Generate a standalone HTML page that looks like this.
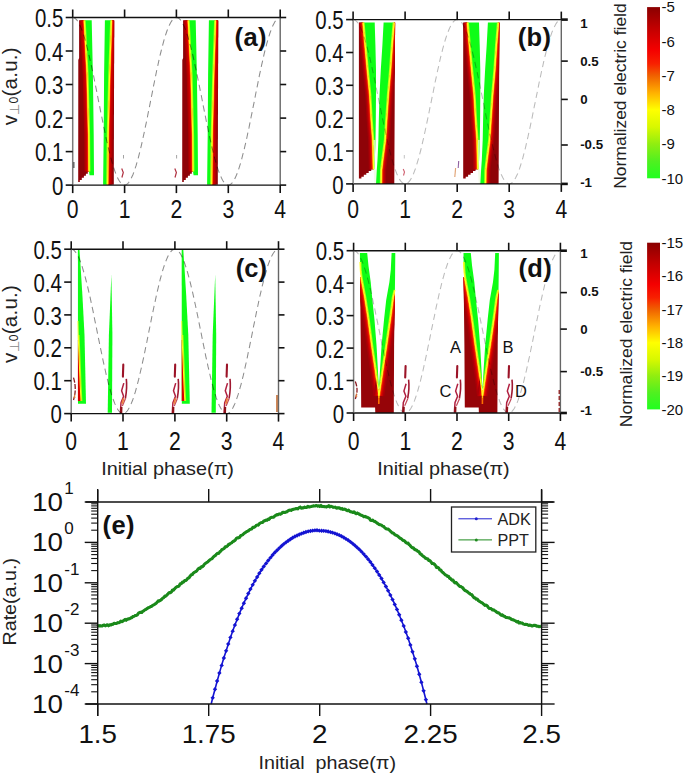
<!DOCTYPE html><html><head><meta charset="utf-8"><style>html,body{margin:0;padding:0;background:#fff;}svg{display:block;} text{font-family:"Liberation Sans",sans-serif;} .tk{font-size:25.5px;fill:#111;} .bl{font-size:25.5px;font-weight:bold;fill:#111;letter-spacing:0.4px;} .rt{font-size:13.3px;font-weight:bold;fill:#111;} .cb{font-size:15px;fill:#111;} .lab{font-size:19px;fill:#222;} .yl{font-size:20.5px;fill:#222;letter-spacing:0.25px;}</style></head><body>
<svg width="685" height="775" viewBox="0 0 685 775">
<defs>
<linearGradient id="cbar" x1="0" y1="0" x2="0" y2="1"><stop offset="0" stop-color="#8a0000"/><stop offset="0.12" stop-color="#c00000"/><stop offset="0.25" stop-color="#f40000"/><stop offset="0.33" stop-color="#f82000"/><stop offset="0.4" stop-color="#f06000"/><stop offset="0.5" stop-color="#ffb000"/><stop offset="0.6" stop-color="#ffff00"/><stop offset="0.7" stop-color="#d8f800"/><stop offset="0.8" stop-color="#90ee10"/><stop offset="0.9" stop-color="#50f020"/><stop offset="1" stop-color="#20ff20"/></linearGradient>
</defs>
<rect width="685" height="775" fill="#fff"/>
<polygon points="84.3,20.3 87.2,75.0 88.7,135.0 89.0,171.5 89.6,175.3 94.0,175.3 94.0,175.3 93.7,135.0 92.9,75.0 91.7,20.3" fill="#0efd16" /><clipPath id="cp1"><polygon points="84.3,20.3 87.2,75.0 88.7,135.0 89.0,171.5 89.6,175.3 94.0,175.3 94.0,175.3 93.7,135.0 92.9,75.0 91.7,20.3" fill="#000" /></clipPath><g clip-path="url(#cp1)"><polyline points="84.3,20.3 87.2,75.0 88.7,135.0 89.0,171.5" fill="none" stroke="#a8ff18" stroke-width="2.8" stroke-linejoin="round"/></g>
<polygon points="79.1,20.3 84.3,20.3 87.2,75.0 88.7,135.0 89.0,171.5 89.2,171.5 87.8,171.5 87.8,173.8 85.9,173.8 85.9,175.8 83.9,175.8 83.9,177.8 81.8,177.8 81.8,179.9 79.8,179.9 79.8,182.1 78.2,182.1 78.3,60.0 79.1,58.0" fill="#8e0308" /><clipPath id="cp2"><polygon points="79.1,20.3 84.3,20.3 87.2,75.0 88.7,135.0 89.0,171.5 89.2,171.5 87.8,171.5 87.8,173.8 85.9,173.8 85.9,175.8 83.9,175.8 83.9,177.8 81.8,177.8 81.8,179.9 79.8,179.9 79.8,182.1 78.2,182.1 78.3,60.0 79.1,58.0" fill="#000" /></clipPath><g clip-path="url(#cp2)"><polyline points="84.3,20.3 87.2,75.0 88.7,135.0 89.0,171.5" fill="none" stroke="#b00000" stroke-width="9.0" stroke-linejoin="round"/><polyline points="84.3,20.3 87.2,75.0 88.7,135.0 89.0,171.5" fill="none" stroke="#c40000" stroke-width="6.6" stroke-linejoin="round"/><polyline points="84.3,20.3 87.2,75.0 88.7,135.0 89.0,171.5" fill="none" stroke="#de0000" stroke-width="4.2" stroke-linejoin="round"/><polyline points="84.3,20.3 87.2,75.0 88.7,135.0 89.0,171.5" fill="none" stroke="#ff4000" stroke-width="2.6" stroke-linejoin="round"/><polyline points="84.3,20.3 87.2,75.0 88.7,135.0 89.0,171.5" fill="none" stroke="#ffb000" stroke-width="1.4" stroke-linejoin="round"/></g>
<polyline points="84.3,20.3 87.2,75.0 88.7,135.0 89.0,171.5" fill="none" stroke="#ffff20" stroke-width="1.1" />
<polygon points="104.9,20.3 104.1,75.0 103.7,135.0 103.1,184.7 107.6,184.7 108.1,135.0 109.6,75.0 111.5,20.3" fill="#0efd16" /><clipPath id="cp3"><polygon points="104.9,20.3 104.1,75.0 103.7,135.0 103.1,184.7 107.6,184.7 108.1,135.0 109.6,75.0 111.5,20.3" fill="#000" /></clipPath><g clip-path="url(#cp3)"><polyline points="111.5,20.3 109.6,75.0 108.1,135.0 107.6,184.7" fill="none" stroke="#a8ff18" stroke-width="2.8" stroke-linejoin="round"/></g>
<polygon points="111.5,20.3 109.6,75.0 108.1,135.0 107.6,184.7 113.8,184.7 114.2,20.3" fill="#8e0308" /><clipPath id="cp4"><polygon points="111.5,20.3 109.6,75.0 108.1,135.0 107.6,184.7 113.8,184.7 114.2,20.3" fill="#000" /></clipPath><g clip-path="url(#cp4)"><polyline points="111.5,20.3 109.6,75.0 108.1,135.0 107.6,184.7" fill="none" stroke="#b00000" stroke-width="9.0" stroke-linejoin="round"/><polyline points="111.5,20.3 109.6,75.0 108.1,135.0 107.6,184.7" fill="none" stroke="#c40000" stroke-width="6.6" stroke-linejoin="round"/><polyline points="111.5,20.3 109.6,75.0 108.1,135.0 107.6,184.7" fill="none" stroke="#de0000" stroke-width="4.2" stroke-linejoin="round"/><polyline points="111.5,20.3 109.6,75.0 108.1,135.0 107.6,184.7" fill="none" stroke="#ff4000" stroke-width="2.6" stroke-linejoin="round"/><polyline points="111.5,20.3 109.6,75.0 108.1,135.0 107.6,184.7" fill="none" stroke="#ffb000" stroke-width="1.4" stroke-linejoin="round"/></g>
<polyline points="111.5,20.3 109.6,75.0 108.1,135.0 107.6,184.7" fill="none" stroke="#ffff20" stroke-width="1.1" />
<polygon points="188.3,20.3 191.2,75.0 192.7,135.0 193.0,171.5 193.6,175.3 198.0,175.3 198.0,175.3 197.7,135.0 196.9,75.0 195.7,20.3" fill="#0efd16" /><clipPath id="cp5"><polygon points="188.3,20.3 191.2,75.0 192.7,135.0 193.0,171.5 193.6,175.3 198.0,175.3 198.0,175.3 197.7,135.0 196.9,75.0 195.7,20.3" fill="#000" /></clipPath><g clip-path="url(#cp5)"><polyline points="188.3,20.3 191.2,75.0 192.7,135.0 193.0,171.5" fill="none" stroke="#a8ff18" stroke-width="2.8" stroke-linejoin="round"/></g>
<polygon points="183.1,20.3 188.3,20.3 191.2,75.0 192.7,135.0 193.0,171.5 193.2,171.5 191.8,171.5 191.8,173.8 189.9,173.8 189.9,175.8 187.9,175.8 187.9,177.8 185.8,177.8 185.8,179.9 183.8,179.9 183.8,182.1 182.2,182.1 182.3,60.0 183.1,58.0" fill="#8e0308" /><clipPath id="cp6"><polygon points="183.1,20.3 188.3,20.3 191.2,75.0 192.7,135.0 193.0,171.5 193.2,171.5 191.8,171.5 191.8,173.8 189.9,173.8 189.9,175.8 187.9,175.8 187.9,177.8 185.8,177.8 185.8,179.9 183.8,179.9 183.8,182.1 182.2,182.1 182.3,60.0 183.1,58.0" fill="#000" /></clipPath><g clip-path="url(#cp6)"><polyline points="188.3,20.3 191.2,75.0 192.7,135.0 193.0,171.5" fill="none" stroke="#b00000" stroke-width="9.0" stroke-linejoin="round"/><polyline points="188.3,20.3 191.2,75.0 192.7,135.0 193.0,171.5" fill="none" stroke="#c40000" stroke-width="6.6" stroke-linejoin="round"/><polyline points="188.3,20.3 191.2,75.0 192.7,135.0 193.0,171.5" fill="none" stroke="#de0000" stroke-width="4.2" stroke-linejoin="round"/><polyline points="188.3,20.3 191.2,75.0 192.7,135.0 193.0,171.5" fill="none" stroke="#ff4000" stroke-width="2.6" stroke-linejoin="round"/><polyline points="188.3,20.3 191.2,75.0 192.7,135.0 193.0,171.5" fill="none" stroke="#ffb000" stroke-width="1.4" stroke-linejoin="round"/></g>
<polyline points="188.3,20.3 191.2,75.0 192.7,135.0 193.0,171.5" fill="none" stroke="#ffff20" stroke-width="1.1" />
<polygon points="208.9,20.3 208.1,75.0 207.7,135.0 207.1,184.7 211.6,184.7 212.1,135.0 213.6,75.0 215.5,20.3" fill="#0efd16" /><clipPath id="cp7"><polygon points="208.9,20.3 208.1,75.0 207.7,135.0 207.1,184.7 211.6,184.7 212.1,135.0 213.6,75.0 215.5,20.3" fill="#000" /></clipPath><g clip-path="url(#cp7)"><polyline points="215.5,20.3 213.6,75.0 212.1,135.0 211.6,184.7" fill="none" stroke="#a8ff18" stroke-width="2.8" stroke-linejoin="round"/></g>
<polygon points="215.5,20.3 213.6,75.0 212.1,135.0 211.6,184.7 217.8,184.7 218.2,20.3" fill="#8e0308" /><clipPath id="cp8"><polygon points="215.5,20.3 213.6,75.0 212.1,135.0 211.6,184.7 217.8,184.7 218.2,20.3" fill="#000" /></clipPath><g clip-path="url(#cp8)"><polyline points="215.5,20.3 213.6,75.0 212.1,135.0 211.6,184.7" fill="none" stroke="#b00000" stroke-width="9.0" stroke-linejoin="round"/><polyline points="215.5,20.3 213.6,75.0 212.1,135.0 211.6,184.7" fill="none" stroke="#c40000" stroke-width="6.6" stroke-linejoin="round"/><polyline points="215.5,20.3 213.6,75.0 212.1,135.0 211.6,184.7" fill="none" stroke="#de0000" stroke-width="4.2" stroke-linejoin="round"/><polyline points="215.5,20.3 213.6,75.0 212.1,135.0 211.6,184.7" fill="none" stroke="#ff4000" stroke-width="2.6" stroke-linejoin="round"/><polyline points="215.5,20.3 213.6,75.0 212.1,135.0 211.6,184.7" fill="none" stroke="#ffb000" stroke-width="1.4" stroke-linejoin="round"/></g>
<polyline points="215.5,20.3 213.6,75.0 212.1,135.0 211.6,184.7" fill="none" stroke="#ffff20" stroke-width="1.1" />
<polyline points="72.7,17.5 73.7,17.7 74.8,18.2 75.8,19.0 76.9,20.1 77.9,21.6 78.9,23.4 80.0,25.5 81.0,27.9 82.0,30.5 83.1,33.5 84.1,36.7 85.2,40.2 86.2,43.9 87.2,47.9 88.3,52.0 89.3,56.4 90.3,60.9 91.4,65.6 92.4,70.5 93.5,75.4 94.5,80.5 95.5,85.6 96.6,90.8 97.6,96.0 98.6,101.3 99.7,106.6 100.7,111.8 101.8,117.0 102.8,122.1 103.8,127.2 104.9,132.1 105.9,137.0 106.9,141.7 108.0,146.2 109.0,150.6 110.1,154.7 111.1,158.7 112.1,162.4 113.2,165.9 114.2,169.1 115.2,172.1 116.3,174.7 117.3,177.1 118.3,179.2 119.4,181.0 120.4,182.5 121.5,183.6 122.5,184.4 123.5,184.9 124.6,185.1 125.6,184.9 126.7,184.4 127.7,183.6 128.7,182.5 129.8,181.0 130.8,179.2 131.8,177.1 132.9,174.7 133.9,172.1 134.9,169.1 136.0,165.9 137.0,162.4 138.1,158.7 139.1,154.7 140.1,150.6 141.2,146.2 142.2,141.7 143.2,137.0 144.3,132.1 145.3,127.2 146.4,122.1 147.4,117.0 148.4,111.8 149.5,106.6 150.5,101.3 151.6,96.0 152.6,90.8 153.6,85.6 154.7,80.5 155.7,75.4 156.7,70.5 157.8,65.6 158.8,60.9 159.8,56.4 160.9,52.0 161.9,47.9 163.0,43.9 164.0,40.2 165.0,36.7 166.1,33.5 167.1,30.5 168.2,27.9 169.2,25.5 170.2,23.4 171.3,21.6 172.3,20.1 173.3,19.0 174.4,18.2 175.4,17.7 176.4,17.5 177.5,17.7 178.5,18.2 179.6,19.0 180.6,20.1 181.6,21.6 182.7,23.4 183.7,25.5 184.8,27.9 185.8,30.5 186.8,33.5 187.9,36.7 188.9,40.2 189.9,43.9 191.0,47.9 192.0,52.0 193.1,56.4 194.1,60.9 195.1,65.6 196.2,70.5 197.2,75.4 198.2,80.5 199.3,85.6 200.3,90.8 201.4,96.0 202.4,101.3 203.4,106.6 204.5,111.8 205.5,117.0 206.5,122.1 207.6,127.2 208.6,132.1 209.7,137.0 210.7,141.7 211.7,146.2 212.8,150.6 213.8,154.7 214.8,158.7 215.9,162.4 216.9,165.9 217.9,169.1 219.0,172.1 220.0,174.7 221.1,177.1 222.1,179.2 223.1,181.0 224.2,182.5 225.2,183.6 226.2,184.4 227.3,184.9 228.3,185.1 229.4,184.9 230.4,184.4 231.4,183.6 232.5,182.5 233.5,181.0 234.6,179.2 235.6,177.1 236.6,174.7 237.7,172.1 238.7,169.1 239.7,165.9 240.8,162.4 241.8,158.7 242.8,154.7 243.9,150.6 244.9,146.2 246.0,141.7 247.0,137.0 248.0,132.1 249.1,127.2 250.1,122.1 251.1,117.0 252.2,111.8 253.2,106.6 254.3,101.3 255.3,96.0 256.3,90.8 257.4,85.6 258.4,80.5 259.4,75.4 260.5,70.5 261.5,65.6 262.6,60.9 263.6,56.4 264.6,52.0 265.7,47.9 266.7,43.9 267.8,40.2 268.8,36.7 269.8,33.5 270.9,30.5 271.9,27.9 272.9,25.5 274.0,23.4 275.0,21.6 276.1,20.1 277.1,19.0 278.1,18.2 279.2,17.7 280.2,17.5" fill="none" stroke="#000" stroke-width="1.05" stroke-dasharray="6.3,4.2" stroke-opacity="0.45"/>
<path d="M121.7 168.5 l1.6 4 l-1.4 5" fill="none" stroke="#b03040" stroke-width="1.2"/>
<path d="M123.5 155 l0 3.5" stroke="#999" stroke-width="0.9"/>
<path d="M174.8 168.5 l1.6 4 l-1.4 5" fill="none" stroke="#b03040" stroke-width="1.2"/>
<path d="M176.6 155 l0 3.5" stroke="#999" stroke-width="0.9"/>
<path d="M73.8 162 l0 6" stroke="#333" stroke-width="1.2"/>
<line x1="72.0" y1="17.5" x2="280.9" y2="17.5" stroke="#111" stroke-width="1.4"/>
<line x1="72.0" y1="185.1" x2="280.9" y2="185.1" stroke="#111" stroke-width="1.4"/>
<line x1="72.7" y1="17.5" x2="72.7" y2="185.1" stroke="#7a7a7a" stroke-width="1.5"/>
<line x1="280.2" y1="17.5" x2="280.2" y2="185.1" stroke="#666" stroke-width="1.4"/>
<line x1="72.7" y1="9.5" x2="72.7" y2="17.5" stroke="#111" stroke-width="1.6"/>
<line x1="72.7" y1="185.1" x2="72.7" y2="193.1" stroke="#111" stroke-width="1.6"/>
<line x1="124.6" y1="9.5" x2="124.6" y2="17.5" stroke="#111" stroke-width="1.6"/>
<line x1="124.6" y1="185.1" x2="124.6" y2="193.1" stroke="#111" stroke-width="1.6"/>
<line x1="176.4" y1="9.5" x2="176.4" y2="17.5" stroke="#111" stroke-width="1.6"/>
<line x1="176.4" y1="185.1" x2="176.4" y2="193.1" stroke="#111" stroke-width="1.6"/>
<line x1="228.3" y1="9.5" x2="228.3" y2="17.5" stroke="#111" stroke-width="1.6"/>
<line x1="228.3" y1="185.1" x2="228.3" y2="193.1" stroke="#111" stroke-width="1.6"/>
<line x1="280.2" y1="9.5" x2="280.2" y2="17.5" stroke="#111" stroke-width="1.6"/>
<line x1="280.2" y1="185.1" x2="280.2" y2="193.1" stroke="#111" stroke-width="1.6"/>
<line x1="65.7" y1="185.1" x2="72.7" y2="185.1" stroke="#111" stroke-width="1.6"/>
<line x1="65.7" y1="151.6" x2="72.7" y2="151.6" stroke="#111" stroke-width="1.6"/>
<line x1="65.7" y1="118.1" x2="72.7" y2="118.1" stroke="#111" stroke-width="1.6"/>
<line x1="65.7" y1="84.5" x2="72.7" y2="84.5" stroke="#111" stroke-width="1.6"/>
<line x1="65.7" y1="51.0" x2="72.7" y2="51.0" stroke="#111" stroke-width="1.6"/>
<line x1="65.7" y1="17.5" x2="72.7" y2="17.5" stroke="#111" stroke-width="1.6"/>
<line x1="280.2" y1="185.1" x2="286.2" y2="185.1" stroke="#111" stroke-width="1.6"/>
<line x1="280.2" y1="151.6" x2="286.2" y2="151.6" stroke="#111" stroke-width="1.6"/>
<line x1="280.2" y1="118.1" x2="286.2" y2="118.1" stroke="#111" stroke-width="1.6"/>
<line x1="280.2" y1="84.5" x2="286.2" y2="84.5" stroke="#111" stroke-width="1.6"/>
<line x1="280.2" y1="51.0" x2="286.2" y2="51.0" stroke="#111" stroke-width="1.6"/>
<line x1="280.2" y1="17.5" x2="286.2" y2="17.5" stroke="#111" stroke-width="1.6"/>
<text x="72.7" y="218.5" class="tk" text-anchor="middle" transform="translate(72.7 0) scale(0.83 1) translate(-72.7 0)">0</text>
<text x="124.6" y="218.5" class="tk" text-anchor="middle" transform="translate(124.6 0) scale(0.83 1) translate(-124.6 0)">1</text>
<text x="176.4" y="218.5" class="tk" text-anchor="middle" transform="translate(176.4 0) scale(0.83 1) translate(-176.4 0)">2</text>
<text x="228.3" y="218.5" class="tk" text-anchor="middle" transform="translate(228.3 0) scale(0.83 1) translate(-228.3 0)">3</text>
<text x="280.2" y="218.5" class="tk" text-anchor="middle" transform="translate(280.2 0) scale(0.83 1) translate(-280.2 0)">4</text>
<text x="63.3" y="194.8" class="tk" text-anchor="end" transform="translate(63.3 0) scale(0.8 1) translate(-63.3 0)">0</text>
<text x="63.3" y="161.3" class="tk" text-anchor="end" transform="translate(63.3 0) scale(0.8 1) translate(-63.3 0)">0.1</text>
<text x="63.3" y="127.8" class="tk" text-anchor="end" transform="translate(63.3 0) scale(0.8 1) translate(-63.3 0)">0.2</text>
<text x="63.3" y="94.2" class="tk" text-anchor="end" transform="translate(63.3 0) scale(0.8 1) translate(-63.3 0)">0.3</text>
<text x="63.3" y="60.7" class="tk" text-anchor="end" transform="translate(63.3 0) scale(0.8 1) translate(-63.3 0)">0.4</text>
<text x="63.3" y="27.2" class="tk" text-anchor="end" transform="translate(63.3 0) scale(0.8 1) translate(-63.3 0)">0.5</text>
<text x="234.5" y="45.8" class="bl">(a)</text>
<polygon points="363.2,22.4 365.2,45.0 367.5,70.0 370.0,95.0 371.4,120.0 372.9,140.0 373.4,160.0 373.6,169.5 374.2,169.5 374.8,160.0 375.5,140.0 375.8,120.0 376.0,95.0 376.0,70.0 375.4,45.0 374.7,22.4" fill="#0efd16" /><clipPath id="cp9"><polygon points="363.2,22.4 365.2,45.0 367.5,70.0 370.0,95.0 371.4,120.0 372.9,140.0 373.4,160.0 373.6,169.5 374.2,169.5 374.8,160.0 375.5,140.0 375.8,120.0 376.0,95.0 376.0,70.0 375.4,45.0 374.7,22.4" fill="#000" /></clipPath><g clip-path="url(#cp9)"><polyline points="363.2,22.4 365.2,45.0 367.5,70.0 370.0,95.0 371.4,120.0 372.9,140.0 373.4,160.0 373.6,169.5" fill="none" stroke="#a8ff18" stroke-width="2.8" stroke-linejoin="round"/></g>
<polygon points="372.9,140.0 375.5,140.0 374.8,160.0 374.2,169.5 373.6,169.5 373.4,160.0" fill="#c8ffa0" />
<polygon points="373.6,169.5 374.2,169.5 376.8,170.0 376.0,183.9 374.5,183.9" fill="#f2fbe8" />
<polygon points="383.6,22.4 382.4,45.0 380.8,70.0 379.5,95.0 378.8,120.0 378.4,140.0 377.5,160.0 376.8,170.0 376.0,183.9 381.2,183.9 381.4,170.0 382.6,160.0 385.2,140.0 386.5,120.0 388.2,95.0 390.4,70.0 392.1,45.0 394.0,22.4" fill="#0efd16" /><clipPath id="cp10"><polygon points="383.6,22.4 382.4,45.0 380.8,70.0 379.5,95.0 378.8,120.0 378.4,140.0 377.5,160.0 376.8,170.0 376.0,183.9 381.2,183.9 381.4,170.0 382.6,160.0 385.2,140.0 386.5,120.0 388.2,95.0 390.4,70.0 392.1,45.0 394.0,22.4" fill="#000" /></clipPath><g clip-path="url(#cp10)"><polyline points="394.0,22.4 392.1,45.0 390.4,70.0 388.2,95.0 386.5,120.0 385.2,140.0 382.6,160.0 381.4,170.0 381.2,183.9" fill="none" stroke="#a8ff18" stroke-width="2.8" stroke-linejoin="round"/></g>
<polygon points="358.6,22.4 363.2,22.4 365.2,45.0 367.5,70.0 370.0,95.0 371.4,120.0 372.9,140.0 373.4,160.0 373.6,169.5 373.6,169.2 371.2,169.2 371.2,171.1 368.7,171.1 368.7,172.9 366.3,172.9 366.3,174.8 363.8,174.8 363.8,176.7 361.4,176.7 361.4,178.6 358.9,178.6 358.9,180.4 358.9,180.4 358.9,22.4" fill="#8e0308" /><clipPath id="cp11"><polygon points="358.6,22.4 363.2,22.4 365.2,45.0 367.5,70.0 370.0,95.0 371.4,120.0 372.9,140.0 373.4,160.0 373.6,169.5 373.6,169.2 371.2,169.2 371.2,171.1 368.7,171.1 368.7,172.9 366.3,172.9 366.3,174.8 363.8,174.8 363.8,176.7 361.4,176.7 361.4,178.6 358.9,178.6 358.9,180.4 358.9,180.4 358.9,22.4" fill="#000" /></clipPath><g clip-path="url(#cp11)"><polyline points="363.2,22.4 365.2,45.0 367.5,70.0 370.0,95.0 371.4,120.0 372.9,140.0 373.4,160.0 373.6,169.5" fill="none" stroke="#a40008" stroke-width="9.6" stroke-linejoin="round"/><polyline points="363.2,22.4 365.2,45.0 367.5,70.0 370.0,95.0 371.4,120.0 372.9,140.0 373.4,160.0 373.6,169.5" fill="none" stroke="#be0004" stroke-width="7.2" stroke-linejoin="round"/><polyline points="363.2,22.4 365.2,45.0 367.5,70.0 370.0,95.0 371.4,120.0 372.9,140.0 373.4,160.0 373.6,169.5" fill="none" stroke="#d80800" stroke-width="5.2" stroke-linejoin="round"/><polyline points="363.2,22.4 365.2,45.0 367.5,70.0 370.0,95.0 371.4,120.0 372.9,140.0 373.4,160.0 373.6,169.5" fill="none" stroke="#ee2800" stroke-width="3.4" stroke-linejoin="round"/><polyline points="363.2,22.4 365.2,45.0 367.5,70.0 370.0,95.0 371.4,120.0 372.9,140.0 373.4,160.0 373.6,169.5" fill="none" stroke="#ff8800" stroke-width="2.2" stroke-linejoin="round"/><polyline points="363.2,22.4 365.2,45.0 367.5,70.0 370.0,95.0 371.4,120.0 372.9,140.0 373.4,160.0 373.6,169.5" fill="none" stroke="#ffd020" stroke-width="1.1" stroke-linejoin="round"/></g>
<polygon points="394.0,22.4 392.1,45.0 390.4,70.0 388.2,95.0 386.5,120.0 385.2,140.0 382.6,160.0 381.4,170.0 381.2,183.9 394.3,183.9 395.1,22.4" fill="#8e0308" /><clipPath id="cp12"><polygon points="394.0,22.4 392.1,45.0 390.4,70.0 388.2,95.0 386.5,120.0 385.2,140.0 382.6,160.0 381.4,170.0 381.2,183.9 394.3,183.9 395.1,22.4" fill="#000" /></clipPath><g clip-path="url(#cp12)"><polyline points="394.0,22.4 392.1,45.0 390.4,70.0 388.2,95.0 386.5,120.0 385.2,140.0 382.6,160.0 381.4,170.0 381.2,183.9" fill="none" stroke="#a40008" stroke-width="9.6" stroke-linejoin="round"/><polyline points="394.0,22.4 392.1,45.0 390.4,70.0 388.2,95.0 386.5,120.0 385.2,140.0 382.6,160.0 381.4,170.0 381.2,183.9" fill="none" stroke="#be0004" stroke-width="7.2" stroke-linejoin="round"/><polyline points="394.0,22.4 392.1,45.0 390.4,70.0 388.2,95.0 386.5,120.0 385.2,140.0 382.6,160.0 381.4,170.0 381.2,183.9" fill="none" stroke="#d80800" stroke-width="5.2" stroke-linejoin="round"/><polyline points="394.0,22.4 392.1,45.0 390.4,70.0 388.2,95.0 386.5,120.0 385.2,140.0 382.6,160.0 381.4,170.0 381.2,183.9" fill="none" stroke="#ee2800" stroke-width="3.4" stroke-linejoin="round"/><polyline points="394.0,22.4 392.1,45.0 390.4,70.0 388.2,95.0 386.5,120.0 385.2,140.0 382.6,160.0 381.4,170.0 381.2,183.9" fill="none" stroke="#ff8800" stroke-width="2.2" stroke-linejoin="round"/><polyline points="394.0,22.4 392.1,45.0 390.4,70.0 388.2,95.0 386.5,120.0 385.2,140.0 382.6,160.0 381.4,170.0 381.2,183.9" fill="none" stroke="#ffd020" stroke-width="1.1" stroke-linejoin="round"/></g>
<polyline points="363.2,22.4 365.2,45.0 367.5,70.0 370.0,95.0 371.4,120.0 372.9,140.0 373.4,160.0 373.6,169.5" fill="none" stroke="#ffff20" stroke-width="1.2" />
<polyline points="394.0,22.4 392.1,45.0 390.4,70.0 388.2,95.0 386.5,120.0 385.2,140.0 382.6,160.0 381.4,170.0 381.2,183.9" fill="none" stroke="#ffff20" stroke-width="1.2" />
<polygon points="467.5,22.4 469.5,45.0 471.8,70.0 474.3,95.0 475.7,120.0 477.2,140.0 477.7,160.0 477.9,169.5 478.5,169.5 479.1,160.0 479.8,140.0 480.1,120.0 480.3,95.0 480.3,70.0 479.7,45.0 479.0,22.4" fill="#0efd16" /><clipPath id="cp13"><polygon points="467.5,22.4 469.5,45.0 471.8,70.0 474.3,95.0 475.7,120.0 477.2,140.0 477.7,160.0 477.9,169.5 478.5,169.5 479.1,160.0 479.8,140.0 480.1,120.0 480.3,95.0 480.3,70.0 479.7,45.0 479.0,22.4" fill="#000" /></clipPath><g clip-path="url(#cp13)"><polyline points="467.5,22.4 469.5,45.0 471.8,70.0 474.3,95.0 475.7,120.0 477.2,140.0 477.7,160.0 477.9,169.5" fill="none" stroke="#a8ff18" stroke-width="2.8" stroke-linejoin="round"/></g>
<polygon points="477.2,140.0 479.8,140.0 479.1,160.0 478.5,169.5 477.9,169.5 477.7,160.0" fill="#c8ffa0" />
<polygon points="477.9,169.5 478.5,169.5 481.1,170.0 480.3,183.9 478.8,183.9" fill="#f2fbe8" />
<polygon points="487.9,22.4 486.7,45.0 485.1,70.0 483.8,95.0 483.1,120.0 482.7,140.0 481.8,160.0 481.1,170.0 480.3,183.9 485.5,183.9 485.7,170.0 486.9,160.0 489.5,140.0 490.8,120.0 492.5,95.0 494.7,70.0 496.4,45.0 498.3,22.4" fill="#0efd16" /><clipPath id="cp14"><polygon points="487.9,22.4 486.7,45.0 485.1,70.0 483.8,95.0 483.1,120.0 482.7,140.0 481.8,160.0 481.1,170.0 480.3,183.9 485.5,183.9 485.7,170.0 486.9,160.0 489.5,140.0 490.8,120.0 492.5,95.0 494.7,70.0 496.4,45.0 498.3,22.4" fill="#000" /></clipPath><g clip-path="url(#cp14)"><polyline points="498.3,22.4 496.4,45.0 494.7,70.0 492.5,95.0 490.8,120.0 489.5,140.0 486.9,160.0 485.7,170.0 485.5,183.9" fill="none" stroke="#a8ff18" stroke-width="2.8" stroke-linejoin="round"/></g>
<polygon points="462.9,22.4 467.5,22.4 469.5,45.0 471.8,70.0 474.3,95.0 475.7,120.0 477.2,140.0 477.7,160.0 477.9,169.5 477.9,169.2 475.5,169.2 475.5,171.1 473.0,171.1 473.0,172.9 470.6,172.9 470.6,174.8 468.1,174.8 468.1,176.7 465.7,176.7 465.7,178.6 463.2,178.6 463.2,180.4 463.2,180.4 463.2,22.4" fill="#8e0308" /><clipPath id="cp15"><polygon points="462.9,22.4 467.5,22.4 469.5,45.0 471.8,70.0 474.3,95.0 475.7,120.0 477.2,140.0 477.7,160.0 477.9,169.5 477.9,169.2 475.5,169.2 475.5,171.1 473.0,171.1 473.0,172.9 470.6,172.9 470.6,174.8 468.1,174.8 468.1,176.7 465.7,176.7 465.7,178.6 463.2,178.6 463.2,180.4 463.2,180.4 463.2,22.4" fill="#000" /></clipPath><g clip-path="url(#cp15)"><polyline points="467.5,22.4 469.5,45.0 471.8,70.0 474.3,95.0 475.7,120.0 477.2,140.0 477.7,160.0 477.9,169.5" fill="none" stroke="#a40008" stroke-width="9.6" stroke-linejoin="round"/><polyline points="467.5,22.4 469.5,45.0 471.8,70.0 474.3,95.0 475.7,120.0 477.2,140.0 477.7,160.0 477.9,169.5" fill="none" stroke="#be0004" stroke-width="7.2" stroke-linejoin="round"/><polyline points="467.5,22.4 469.5,45.0 471.8,70.0 474.3,95.0 475.7,120.0 477.2,140.0 477.7,160.0 477.9,169.5" fill="none" stroke="#d80800" stroke-width="5.2" stroke-linejoin="round"/><polyline points="467.5,22.4 469.5,45.0 471.8,70.0 474.3,95.0 475.7,120.0 477.2,140.0 477.7,160.0 477.9,169.5" fill="none" stroke="#ee2800" stroke-width="3.4" stroke-linejoin="round"/><polyline points="467.5,22.4 469.5,45.0 471.8,70.0 474.3,95.0 475.7,120.0 477.2,140.0 477.7,160.0 477.9,169.5" fill="none" stroke="#ff8800" stroke-width="2.2" stroke-linejoin="round"/><polyline points="467.5,22.4 469.5,45.0 471.8,70.0 474.3,95.0 475.7,120.0 477.2,140.0 477.7,160.0 477.9,169.5" fill="none" stroke="#ffd020" stroke-width="1.1" stroke-linejoin="round"/></g>
<polygon points="498.3,22.4 496.4,45.0 494.7,70.0 492.5,95.0 490.8,120.0 489.5,140.0 486.9,160.0 485.7,170.0 485.5,183.9 498.6,183.9 499.4,22.4" fill="#8e0308" /><clipPath id="cp16"><polygon points="498.3,22.4 496.4,45.0 494.7,70.0 492.5,95.0 490.8,120.0 489.5,140.0 486.9,160.0 485.7,170.0 485.5,183.9 498.6,183.9 499.4,22.4" fill="#000" /></clipPath><g clip-path="url(#cp16)"><polyline points="498.3,22.4 496.4,45.0 494.7,70.0 492.5,95.0 490.8,120.0 489.5,140.0 486.9,160.0 485.7,170.0 485.5,183.9" fill="none" stroke="#a40008" stroke-width="9.6" stroke-linejoin="round"/><polyline points="498.3,22.4 496.4,45.0 494.7,70.0 492.5,95.0 490.8,120.0 489.5,140.0 486.9,160.0 485.7,170.0 485.5,183.9" fill="none" stroke="#be0004" stroke-width="7.2" stroke-linejoin="round"/><polyline points="498.3,22.4 496.4,45.0 494.7,70.0 492.5,95.0 490.8,120.0 489.5,140.0 486.9,160.0 485.7,170.0 485.5,183.9" fill="none" stroke="#d80800" stroke-width="5.2" stroke-linejoin="round"/><polyline points="498.3,22.4 496.4,45.0 494.7,70.0 492.5,95.0 490.8,120.0 489.5,140.0 486.9,160.0 485.7,170.0 485.5,183.9" fill="none" stroke="#ee2800" stroke-width="3.4" stroke-linejoin="round"/><polyline points="498.3,22.4 496.4,45.0 494.7,70.0 492.5,95.0 490.8,120.0 489.5,140.0 486.9,160.0 485.7,170.0 485.5,183.9" fill="none" stroke="#ff8800" stroke-width="2.2" stroke-linejoin="round"/><polyline points="498.3,22.4 496.4,45.0 494.7,70.0 492.5,95.0 490.8,120.0 489.5,140.0 486.9,160.0 485.7,170.0 485.5,183.9" fill="none" stroke="#ffd020" stroke-width="1.1" stroke-linejoin="round"/></g>
<polyline points="467.5,22.4 469.5,45.0 471.8,70.0 474.3,95.0 475.7,120.0 477.2,140.0 477.7,160.0 477.9,169.5" fill="none" stroke="#ffff20" stroke-width="1.2" />
<polyline points="498.3,22.4 496.4,45.0 494.7,70.0 492.5,95.0 490.8,120.0 489.5,140.0 486.9,160.0 485.7,170.0 485.5,183.9" fill="none" stroke="#ffff20" stroke-width="1.2" />
<polyline points="353.1,19.6 354.1,19.8 355.2,20.2 356.2,21.1 357.3,22.2 358.3,23.6 359.3,25.4 360.4,27.4 361.4,29.8 362.5,32.4 363.5,35.3 364.6,38.5 365.6,41.9 366.6,45.5 367.7,49.4 368.7,53.5 369.8,57.7 370.8,62.2 371.8,66.8 372.9,71.5 373.9,76.4 375.0,81.3 376.0,86.4 377.0,91.5 378.1,96.6 379.1,101.8 380.2,106.9 381.2,112.0 382.2,117.1 383.3,122.2 384.3,127.1 385.4,132.0 386.4,136.7 387.5,141.3 388.5,145.8 389.5,150.0 390.6,154.1 391.6,158.0 392.7,161.6 393.7,165.0 394.7,168.2 395.8,171.1 396.8,173.7 397.9,176.1 398.9,178.1 399.9,179.9 401.0,181.3 402.0,182.4 403.1,183.3 404.1,183.7 405.1,183.9 406.2,183.7 407.2,183.3 408.3,182.4 409.3,181.3 410.4,179.9 411.4,178.1 412.4,176.1 413.5,173.7 414.5,171.1 415.6,168.2 416.6,165.0 417.6,161.6 418.7,158.0 419.7,154.1 420.8,150.0 421.8,145.8 422.8,141.3 423.9,136.7 424.9,132.0 426.0,127.1 427.0,122.2 428.1,117.1 429.1,112.0 430.1,106.9 431.2,101.8 432.2,96.6 433.3,91.5 434.3,86.4 435.3,81.3 436.4,76.4 437.4,71.5 438.5,66.8 439.5,62.2 440.5,57.7 441.6,53.5 442.6,49.4 443.7,45.5 444.7,41.9 445.7,38.5 446.8,35.3 447.8,32.4 448.9,29.8 449.9,27.4 451.0,25.4 452.0,23.6 453.0,22.2 454.1,21.1 455.1,20.2 456.2,19.8 457.2,19.6 458.2,19.8 459.3,20.2 460.3,21.1 461.4,22.2 462.4,23.6 463.4,25.4 464.5,27.4 465.5,29.8 466.6,32.4 467.6,35.3 468.7,38.5 469.7,41.9 470.7,45.5 471.8,49.4 472.8,53.5 473.9,57.7 474.9,62.2 475.9,66.8 477.0,71.5 478.0,76.4 479.1,81.3 480.1,86.4 481.1,91.5 482.2,96.6 483.2,101.7 484.3,106.9 485.3,112.0 486.3,117.1 487.4,122.2 488.4,127.1 489.5,132.0 490.5,136.7 491.6,141.3 492.6,145.8 493.6,150.0 494.7,154.1 495.7,158.0 496.8,161.6 497.8,165.0 498.8,168.2 499.9,171.1 500.9,173.7 502.0,176.1 503.0,178.1 504.0,179.9 505.1,181.3 506.1,182.4 507.2,183.3 508.2,183.7 509.2,183.9 510.3,183.7 511.3,183.3 512.4,182.4 513.4,181.3 514.5,179.9 515.5,178.1 516.5,176.1 517.6,173.7 518.6,171.1 519.7,168.2 520.7,165.0 521.7,161.6 522.8,158.0 523.8,154.1 524.9,150.0 525.9,145.8 526.9,141.3 528.0,136.7 529.0,132.0 530.1,127.1 531.1,122.2 532.2,117.1 533.2,112.0 534.2,106.9 535.3,101.8 536.3,96.6 537.4,91.5 538.4,86.4 539.4,81.3 540.5,76.4 541.5,71.5 542.6,66.8 543.6,62.2 544.6,57.7 545.7,53.5 546.7,49.4 547.8,45.5 548.8,41.9 549.8,38.5 550.9,35.3 551.9,32.4 553.0,29.8 554.0,27.4 555.1,25.4 556.1,23.6 557.1,22.2 558.2,21.1 559.2,20.2 560.3,19.8 561.3,19.6" fill="none" stroke="#000" stroke-width="1.05" stroke-dasharray="6.3,4.2" stroke-opacity="0.27"/>
<path d="M403.2 169 l1.3 3 l-1 3.5" fill="none" stroke="#d06070" stroke-width="1.1"/>
<path d="M404.3 155 l0 3.5" stroke="#bbb" stroke-width="0.9"/>
<path d="M458.7 161 l-0.5 7" stroke="#9060a0" stroke-width="1.1"/>
<path d="M455.6 168 l-0.8 9" stroke="#e0a070" stroke-width="1.1"/>
<line x1="352.4" y1="19.6" x2="562.0" y2="19.6" stroke="#111" stroke-width="1.4"/>
<line x1="352.4" y1="183.9" x2="562.0" y2="183.9" stroke="#111" stroke-width="1.4"/>
<line x1="353.1" y1="19.6" x2="353.1" y2="183.9" stroke="#7a7a7a" stroke-width="1.5"/>
<line x1="561.3" y1="19.6" x2="561.3" y2="183.9" stroke="#666" stroke-width="1.4"/>
<line x1="353.1" y1="11.6" x2="353.1" y2="19.6" stroke="#111" stroke-width="1.6"/>
<line x1="353.1" y1="183.9" x2="353.1" y2="191.9" stroke="#111" stroke-width="1.6"/>
<line x1="405.1" y1="11.6" x2="405.1" y2="19.6" stroke="#111" stroke-width="1.6"/>
<line x1="405.1" y1="183.9" x2="405.1" y2="191.9" stroke="#111" stroke-width="1.6"/>
<line x1="457.2" y1="11.6" x2="457.2" y2="19.6" stroke="#111" stroke-width="1.6"/>
<line x1="457.2" y1="183.9" x2="457.2" y2="191.9" stroke="#111" stroke-width="1.6"/>
<line x1="509.2" y1="11.6" x2="509.2" y2="19.6" stroke="#111" stroke-width="1.6"/>
<line x1="509.2" y1="183.9" x2="509.2" y2="191.9" stroke="#111" stroke-width="1.6"/>
<line x1="561.3" y1="11.6" x2="561.3" y2="19.6" stroke="#111" stroke-width="1.6"/>
<line x1="561.3" y1="183.9" x2="561.3" y2="191.9" stroke="#111" stroke-width="1.6"/>
<line x1="346.1" y1="183.9" x2="353.1" y2="183.9" stroke="#111" stroke-width="1.6"/>
<line x1="346.1" y1="151.0" x2="353.1" y2="151.0" stroke="#111" stroke-width="1.6"/>
<line x1="346.1" y1="118.2" x2="353.1" y2="118.2" stroke="#111" stroke-width="1.6"/>
<line x1="346.1" y1="85.3" x2="353.1" y2="85.3" stroke="#111" stroke-width="1.6"/>
<line x1="346.1" y1="52.5" x2="353.1" y2="52.5" stroke="#111" stroke-width="1.6"/>
<line x1="346.1" y1="19.6" x2="353.1" y2="19.6" stroke="#111" stroke-width="1.6"/>
<line x1="561.3" y1="19.6" x2="567.8" y2="19.6" stroke="#111" stroke-width="2.6"/>
<line x1="561.3" y1="61.1" x2="567.8" y2="61.1" stroke="#111" stroke-width="1.6"/>
<line x1="561.3" y1="99.4" x2="567.8" y2="99.4" stroke="#111" stroke-width="1.6"/>
<line x1="561.3" y1="145.0" x2="567.8" y2="145.0" stroke="#111" stroke-width="1.6"/>
<line x1="561.3" y1="183.9" x2="567.8" y2="183.9" stroke="#111" stroke-width="2.6"/>
<text x="353.1" y="218.5" class="tk" text-anchor="middle" transform="translate(353.1 0) scale(0.83 1) translate(-353.1 0)">0</text>
<text x="405.1" y="218.5" class="tk" text-anchor="middle" transform="translate(405.1 0) scale(0.83 1) translate(-405.1 0)">1</text>
<text x="457.2" y="218.5" class="tk" text-anchor="middle" transform="translate(457.2 0) scale(0.83 1) translate(-457.2 0)">2</text>
<text x="509.2" y="218.5" class="tk" text-anchor="middle" transform="translate(509.2 0) scale(0.83 1) translate(-509.2 0)">3</text>
<text x="561.3" y="218.5" class="tk" text-anchor="middle" transform="translate(561.3 0) scale(0.83 1) translate(-561.3 0)">4</text>
<text x="343.7" y="193.6" class="tk" text-anchor="end" transform="translate(343.7 0) scale(0.8 1) translate(-343.7 0)">0</text>
<text x="343.7" y="160.7" class="tk" text-anchor="end" transform="translate(343.7 0) scale(0.8 1) translate(-343.7 0)">0.1</text>
<text x="343.7" y="127.9" class="tk" text-anchor="end" transform="translate(343.7 0) scale(0.8 1) translate(-343.7 0)">0.2</text>
<text x="343.7" y="95.0" class="tk" text-anchor="end" transform="translate(343.7 0) scale(0.8 1) translate(-343.7 0)">0.3</text>
<text x="343.7" y="62.2" class="tk" text-anchor="end" transform="translate(343.7 0) scale(0.8 1) translate(-343.7 0)">0.4</text>
<text x="343.7" y="29.3" class="tk" text-anchor="end" transform="translate(343.7 0) scale(0.8 1) translate(-343.7 0)">0.5</text>
<text x="517.7" y="45.8" class="bl">(b)</text>
<text x="580.2" y="27.5" class="rt">1</text>
<text x="580.2" y="65.5" class="rt">0.5</text>
<text x="580.2" y="103.8" class="rt">0</text>
<text x="580.2" y="148.8" class="rt">-0.5</text>
<text x="580.2" y="187.3" class="rt">-1</text>
<polygon points="77.9,249.6 79.5,249.6 82.2,291.4 84.5,335.0 86.0,403.7 78.0,403.7" fill="#0efd16" /><clipPath id="cp17"><polygon points="77.9,249.6 79.5,249.6 82.2,291.4 84.5,335.0 86.0,403.7 78.0,403.7" fill="#000" /></clipPath><g clip-path="url(#cp17)"><polyline points="78.2,335.0 79.2,360.0 80.2,385.0 81.0,401.0" fill="none" stroke="#a8ff18" stroke-width="2.8" stroke-linejoin="round"/></g>
<polygon points="77.9,340.0 78.6,340.0 79.4,360.0 80.4,385.0 81.2,401.0 77.9,401.0" fill="#d80000" />
<polyline points="77.9,321.0 78.2,335.0" fill="none" stroke="#ffff40" stroke-width="1.0" />
<polyline points="78.2,335.0 79.2,360.0 80.2,385.0 81.0,401.0" fill="none" stroke="#ffff20" stroke-width="1.0" />
<polygon points="111.4,274.6 112.4,335.0 112.0,412.7 107.7,412.7 108.9,335.0" fill="#0efd16" />
<polygon points="181.7,249.6 183.3,249.6 186.0,291.4 188.3,335.0 189.8,403.7 181.8,403.7" fill="#0efd16" /><clipPath id="cp18"><polygon points="181.7,249.6 183.3,249.6 186.0,291.4 188.3,335.0 189.8,403.7 181.8,403.7" fill="#000" /></clipPath><g clip-path="url(#cp18)"><polyline points="182.0,335.0 183.0,360.0 184.0,385.0 184.8,401.0" fill="none" stroke="#a8ff18" stroke-width="2.8" stroke-linejoin="round"/></g>
<polygon points="181.7,340.0 182.4,340.0 183.2,360.0 184.2,385.0 185.0,401.0 181.7,401.0" fill="#d80000" />
<polyline points="181.7,321.0 182.0,335.0" fill="none" stroke="#ffff40" stroke-width="1.0" />
<polyline points="182.0,335.0 183.0,360.0 184.0,385.0 184.8,401.0" fill="none" stroke="#ffff20" stroke-width="1.0" />
<polygon points="215.2,274.6 216.2,335.0 215.8,412.7 211.5,412.7 212.7,335.0" fill="#0efd16" />
<path d="M73.5 377.6 Q77.0 388.8 73.5 400.0" fill="none" stroke="#8a1a20" stroke-width="1.3" stroke-dasharray="5,1.5"/><path d="M73.5 398.0 l1 -5 l1 5 z" fill="#e08040"/>
<path d="M123.3 364.6 L122.9 376.6" stroke="#9c1428" stroke-width="2.1" stroke-linecap="round" fill="none"/>
<path d="M126.3 378.8 Q127.3 387.5 125.4 398.3" stroke="#a01830" stroke-width="1.6" fill="none"/>
<path d="M120.4 413.0 L121.0 402.7 L123.6 396.2 L121.6 390.7 L123.8 383.1" stroke="#b02040" stroke-width="1.5" fill="none" stroke-linejoin="round"/>
<path d="M122.4 405.9 L125.6 398.3" stroke="#c04858" stroke-width="1.2" fill="none"/>
<path d="M122.2 403.8 L123.6 398.3" stroke="#f08040" stroke-width="1.8" fill="none"/>
<path d="M121.2 413.2 L121.4 407.0" stroke="#901018" stroke-width="2.2" fill="none"/>
<path d="M175.2 364.6 L174.8 376.6" stroke="#9c1428" stroke-width="2.1" stroke-linecap="round" fill="none"/>
<path d="M178.2 378.8 Q179.2 387.5 177.3 398.3" stroke="#a01830" stroke-width="1.6" fill="none"/>
<path d="M172.3 413.0 L172.9 402.7 L175.5 396.2 L173.5 390.7 L175.7 383.1" stroke="#b02040" stroke-width="1.5" fill="none" stroke-linejoin="round"/>
<path d="M174.3 405.9 L177.5 398.3" stroke="#c04858" stroke-width="1.2" fill="none"/>
<path d="M174.1 403.8 L175.5 398.3" stroke="#f08040" stroke-width="1.8" fill="none"/>
<path d="M173.1 413.2 L173.3 407.0" stroke="#901018" stroke-width="2.2" fill="none"/>
<path d="M227.0 364.6 L226.6 376.6" stroke="#9c1428" stroke-width="2.1" stroke-linecap="round" fill="none"/>
<path d="M230.0 378.8 Q231.0 387.5 229.1 398.3" stroke="#a01830" stroke-width="1.6" fill="none"/>
<path d="M224.1 413.0 L224.7 402.7 L227.3 396.2 L225.3 390.7 L227.5 383.1" stroke="#b02040" stroke-width="1.5" fill="none" stroke-linejoin="round"/>
<path d="M226.1 405.9 L229.3 398.3" stroke="#c04858" stroke-width="1.2" fill="none"/>
<path d="M225.9 403.8 L227.3 398.3" stroke="#f08040" stroke-width="1.8" fill="none"/>
<path d="M224.9 413.2 L225.1 407.0" stroke="#901018" stroke-width="2.2" fill="none"/>
<path d="M277 395 L277 412" stroke="#c06020" stroke-width="1.5"/>
<polyline points="71.2,249.2 72.2,249.4 73.3,249.8 74.3,250.7 75.3,251.8 76.4,253.2 77.4,255.0 78.5,257.0 79.5,259.4 80.5,262.0 81.6,264.9 82.6,268.1 83.6,271.5 84.7,275.1 85.7,279.0 86.7,283.1 87.8,287.3 88.8,291.8 89.9,296.4 90.9,301.1 91.9,306.0 93.0,310.9 94.0,316.0 95.0,321.1 96.1,326.2 97.1,331.4 98.1,336.5 99.2,341.7 100.2,346.8 101.3,351.8 102.3,356.8 103.3,361.6 104.4,366.4 105.4,371.0 106.4,375.4 107.5,379.7 108.5,383.8 109.6,387.6 110.6,391.3 111.6,394.7 112.7,397.9 113.7,400.8 114.7,403.4 115.8,405.7 116.8,407.8 117.8,409.5 118.9,411.0 119.9,412.1 121.0,412.9 122.0,413.4 123.0,413.6 124.1,413.4 125.1,412.9 126.1,412.1 127.2,411.0 128.2,409.5 129.2,407.8 130.3,405.7 131.3,403.4 132.4,400.8 133.4,397.9 134.4,394.7 135.5,391.3 136.5,387.6 137.5,383.8 138.6,379.7 139.6,375.4 140.6,371.0 141.7,366.4 142.7,361.6 143.8,356.8 144.8,351.8 145.8,346.8 146.9,341.7 147.9,336.5 148.9,331.4 150.0,326.2 151.0,321.1 152.0,316.0 153.1,310.9 154.1,306.0 155.2,301.1 156.2,296.4 157.2,291.8 158.3,287.3 159.3,283.1 160.3,279.0 161.4,275.1 162.4,271.5 163.4,268.1 164.5,264.9 165.5,262.0 166.6,259.4 167.6,257.0 168.6,255.0 169.7,253.2 170.7,251.8 171.7,250.7 172.8,249.8 173.8,249.4 174.9,249.2 175.9,249.4 176.9,249.8 178.0,250.7 179.0,251.8 180.0,253.2 181.1,255.0 182.1,257.0 183.1,259.4 184.2,262.0 185.2,264.9 186.3,268.1 187.3,271.5 188.3,275.1 189.4,279.0 190.4,283.1 191.4,287.3 192.5,291.8 193.5,296.4 194.5,301.1 195.6,306.0 196.6,310.9 197.7,316.0 198.7,321.1 199.7,326.2 200.8,331.4 201.8,336.5 202.8,341.7 203.9,346.8 204.9,351.8 205.9,356.8 207.0,361.6 208.0,366.4 209.1,371.0 210.1,375.4 211.1,379.7 212.2,383.8 213.2,387.6 214.2,391.3 215.3,394.7 216.3,397.9 217.3,400.8 218.4,403.4 219.4,405.7 220.5,407.8 221.5,409.5 222.5,411.0 223.6,412.1 224.6,412.9 225.6,413.4 226.7,413.6 227.7,413.4 228.7,412.9 229.8,412.1 230.8,411.0 231.9,409.5 232.9,407.8 233.9,405.7 235.0,403.4 236.0,400.8 237.0,397.9 238.1,394.7 239.1,391.3 240.1,387.6 241.2,383.8 242.2,379.7 243.3,375.4 244.3,371.0 245.3,366.4 246.4,361.6 247.4,356.8 248.4,351.8 249.5,346.8 250.5,341.7 251.6,336.5 252.6,331.4 253.6,326.2 254.7,321.1 255.7,316.0 256.7,310.9 257.8,306.0 258.8,301.1 259.8,296.4 260.9,291.8 261.9,287.3 263.0,283.1 264.0,279.0 265.0,275.1 266.1,271.5 267.1,268.1 268.1,264.9 269.2,262.0 270.2,259.4 271.2,257.0 272.3,255.0 273.3,253.2 274.4,251.8 275.4,250.7 276.4,249.8 277.5,249.4 278.5,249.2" fill="none" stroke="#000" stroke-width="1.05" stroke-dasharray="6.3,4.2" stroke-opacity="0.45"/>
<line x1="70.5" y1="249.2" x2="279.2" y2="249.2" stroke="#111" stroke-width="1.4"/>
<line x1="70.5" y1="413.6" x2="279.2" y2="413.6" stroke="#111" stroke-width="1.4"/>
<line x1="71.2" y1="249.2" x2="71.2" y2="413.6" stroke="#7a7a7a" stroke-width="1.5"/>
<line x1="278.5" y1="249.2" x2="278.5" y2="413.6" stroke="#666" stroke-width="1.4"/>
<line x1="71.2" y1="241.2" x2="71.2" y2="249.2" stroke="#111" stroke-width="1.6"/>
<line x1="71.2" y1="413.6" x2="71.2" y2="421.6" stroke="#111" stroke-width="1.6"/>
<line x1="123.0" y1="241.2" x2="123.0" y2="249.2" stroke="#111" stroke-width="1.6"/>
<line x1="123.0" y1="413.6" x2="123.0" y2="421.6" stroke="#111" stroke-width="1.6"/>
<line x1="174.9" y1="241.2" x2="174.9" y2="249.2" stroke="#111" stroke-width="1.6"/>
<line x1="174.9" y1="413.6" x2="174.9" y2="421.6" stroke="#111" stroke-width="1.6"/>
<line x1="226.7" y1="241.2" x2="226.7" y2="249.2" stroke="#111" stroke-width="1.6"/>
<line x1="226.7" y1="413.6" x2="226.7" y2="421.6" stroke="#111" stroke-width="1.6"/>
<line x1="278.5" y1="241.2" x2="278.5" y2="249.2" stroke="#111" stroke-width="1.6"/>
<line x1="278.5" y1="413.6" x2="278.5" y2="421.6" stroke="#111" stroke-width="1.6"/>
<line x1="64.2" y1="413.6" x2="71.2" y2="413.6" stroke="#111" stroke-width="1.6"/>
<line x1="64.2" y1="380.7" x2="71.2" y2="380.7" stroke="#111" stroke-width="1.6"/>
<line x1="64.2" y1="347.8" x2="71.2" y2="347.8" stroke="#111" stroke-width="1.6"/>
<line x1="64.2" y1="314.9" x2="71.2" y2="314.9" stroke="#111" stroke-width="1.6"/>
<line x1="64.2" y1="282.1" x2="71.2" y2="282.1" stroke="#111" stroke-width="1.6"/>
<line x1="64.2" y1="249.2" x2="71.2" y2="249.2" stroke="#111" stroke-width="1.6"/>
<line x1="278.5" y1="413.6" x2="284.5" y2="413.6" stroke="#111" stroke-width="1.6"/>
<line x1="278.5" y1="380.7" x2="284.5" y2="380.7" stroke="#111" stroke-width="1.6"/>
<line x1="278.5" y1="347.8" x2="284.5" y2="347.8" stroke="#111" stroke-width="1.6"/>
<line x1="278.5" y1="314.9" x2="284.5" y2="314.9" stroke="#111" stroke-width="1.6"/>
<line x1="278.5" y1="282.1" x2="284.5" y2="282.1" stroke="#111" stroke-width="1.6"/>
<line x1="278.5" y1="249.2" x2="284.5" y2="249.2" stroke="#111" stroke-width="1.6"/>
<text x="71.2" y="450.5" class="tk" text-anchor="middle" transform="translate(71.2 0) scale(0.83 1) translate(-71.2 0)">0</text>
<text x="123.0" y="450.5" class="tk" text-anchor="middle" transform="translate(123.0 0) scale(0.83 1) translate(-123.0 0)">1</text>
<text x="174.9" y="450.5" class="tk" text-anchor="middle" transform="translate(174.9 0) scale(0.83 1) translate(-174.9 0)">2</text>
<text x="226.7" y="450.5" class="tk" text-anchor="middle" transform="translate(226.7 0) scale(0.83 1) translate(-226.7 0)">3</text>
<text x="278.5" y="450.5" class="tk" text-anchor="middle" transform="translate(278.5 0) scale(0.83 1) translate(-278.5 0)">4</text>
<text x="61.8" y="423.2" class="tk" text-anchor="end" transform="translate(61.8 0) scale(0.8 1) translate(-61.8 0)">0</text>
<text x="61.8" y="390.4" class="tk" text-anchor="end" transform="translate(61.8 0) scale(0.8 1) translate(-61.8 0)">0.1</text>
<text x="61.8" y="357.5" class="tk" text-anchor="end" transform="translate(61.8 0) scale(0.8 1) translate(-61.8 0)">0.2</text>
<text x="61.8" y="324.6" class="tk" text-anchor="end" transform="translate(61.8 0) scale(0.8 1) translate(-61.8 0)">0.3</text>
<text x="61.8" y="291.8" class="tk" text-anchor="end" transform="translate(61.8 0) scale(0.8 1) translate(-61.8 0)">0.4</text>
<text x="61.8" y="258.9" class="tk" text-anchor="end" transform="translate(61.8 0) scale(0.8 1) translate(-61.8 0)">0.5</text>
<text x="235.8" y="277.3" class="bl" style="letter-spacing:0">(c)</text>
<polygon points="360.0,277.0 361.6,279.6 364.9,297.0 368.2,318.0 371.8,345.0 375.5,370.0 378.9,395.6 378.9,395.6 382.7,370.0 386.5,345.0 390.4,318.0 393.2,297.0 394.9,290.0 394.1,345.0 393.8,412.9 375.3,412.9 375.1,407.4 361.2,407.4 360.8,345.0" fill="#960408" />
<polygon points="359.9,253.0 360.0,262.0 360.5,272.0 361.6,279.6 364.9,297.0 368.2,318.0 371.8,345.0 375.5,370.0 378.9,390.0 378.9,390.0 377.9,370.0 376.5,345.0 374.5,320.0 372.4,300.0 370.7,282.0 368.5,266.0 367.2,253.0" fill="#0efd16" /><clipPath id="cp19"><polygon points="359.9,253.0 360.0,262.0 360.5,272.0 361.6,279.6 364.9,297.0 368.2,318.0 371.8,345.0 375.5,370.0 378.9,390.0 378.9,390.0 377.9,370.0 376.5,345.0 374.5,320.0 372.4,300.0 370.7,282.0 368.5,266.0 367.2,253.0" fill="#000" /></clipPath><g clip-path="url(#cp19)"><polyline points="360.0,262.0 360.5,272.0 361.6,279.6 364.9,297.0 368.2,318.0 371.8,345.0 375.5,370.0 378.9,395.6" fill="none" stroke="#a8ff18" stroke-width="2.8" stroke-linejoin="round"/></g>
<polygon points="391.6,253.0 395.3,253.0 395.1,275.0 394.9,290.0 393.2,297.0 390.4,318.0 386.5,345.0 382.7,370.0 378.9,390.0 378.9,390.0 380.0,370.0 381.6,345.0 384.2,318.0 386.2,300.0 389.4,282.0 390.8,269.7 391.6,253.0" fill="#0efd16" /><clipPath id="cp20"><polygon points="391.6,253.0 395.3,253.0 395.1,275.0 394.9,290.0 393.2,297.0 390.4,318.0 386.5,345.0 382.7,370.0 378.9,390.0 378.9,390.0 380.0,370.0 381.6,345.0 384.2,318.0 386.2,300.0 389.4,282.0 390.8,269.7 391.6,253.0" fill="#000" /></clipPath><g clip-path="url(#cp20)"><polyline points="394.9,290.0 393.2,297.0 390.4,318.0 386.5,345.0 382.7,370.0 378.9,395.6" fill="none" stroke="#a8ff18" stroke-width="2.8" stroke-linejoin="round"/></g>
<clipPath id="cp21"><polygon points="360.0,277.0 361.6,279.6 364.9,297.0 368.2,318.0 371.8,345.0 375.5,370.0 378.9,395.6 378.9,395.6 382.7,370.0 386.5,345.0 390.4,318.0 393.2,297.0 394.9,290.0 394.1,345.0 393.8,412.9 375.3,412.9 375.1,407.4 361.2,407.4 360.8,345.0" fill="#000" /></clipPath><g clip-path="url(#cp21)"><polyline points="360.0,262.0 360.5,272.0 361.6,279.6 364.9,297.0 368.2,318.0 371.8,345.0 375.5,370.0 378.9,395.6" fill="none" stroke="#a80008" stroke-width="11.0" stroke-linejoin="round"/><polyline points="360.0,262.0 360.5,272.0 361.6,279.6 364.9,297.0 368.2,318.0 371.8,345.0 375.5,370.0 378.9,395.6" fill="none" stroke="#c40004" stroke-width="8.0" stroke-linejoin="round"/><polyline points="360.0,262.0 360.5,272.0 361.6,279.6 364.9,297.0 368.2,318.0 371.8,345.0 375.5,370.0 378.9,395.6" fill="none" stroke="#de0800" stroke-width="5.6" stroke-linejoin="round"/><polyline points="360.0,262.0 360.5,272.0 361.6,279.6 364.9,297.0 368.2,318.0 371.8,345.0 375.5,370.0 378.9,395.6" fill="none" stroke="#f42c00" stroke-width="3.6" stroke-linejoin="round"/><polyline points="360.0,262.0 360.5,272.0 361.6,279.6 364.9,297.0 368.2,318.0 371.8,345.0 375.5,370.0 378.9,395.6" fill="none" stroke="#ff8000" stroke-width="2.2" stroke-linejoin="round"/><polyline points="360.0,262.0 360.5,272.0 361.6,279.6 364.9,297.0 368.2,318.0 371.8,345.0 375.5,370.0 378.9,395.6" fill="none" stroke="#ffd020" stroke-width="1.1" stroke-linejoin="round"/><polyline points="394.9,290.0 393.2,297.0 390.4,318.0 386.5,345.0 382.7,370.0 378.9,395.6" fill="none" stroke="#a80008" stroke-width="11.0" stroke-linejoin="round"/><polyline points="394.9,290.0 393.2,297.0 390.4,318.0 386.5,345.0 382.7,370.0 378.9,395.6" fill="none" stroke="#c40004" stroke-width="8.0" stroke-linejoin="round"/><polyline points="394.9,290.0 393.2,297.0 390.4,318.0 386.5,345.0 382.7,370.0 378.9,395.6" fill="none" stroke="#de0800" stroke-width="5.6" stroke-linejoin="round"/><polyline points="394.9,290.0 393.2,297.0 390.4,318.0 386.5,345.0 382.7,370.0 378.9,395.6" fill="none" stroke="#f42c00" stroke-width="3.6" stroke-linejoin="round"/><polyline points="394.9,290.0 393.2,297.0 390.4,318.0 386.5,345.0 382.7,370.0 378.9,395.6" fill="none" stroke="#ff8000" stroke-width="2.2" stroke-linejoin="round"/><polyline points="394.9,290.0 393.2,297.0 390.4,318.0 386.5,345.0 382.7,370.0 378.9,395.6" fill="none" stroke="#ffd020" stroke-width="1.1" stroke-linejoin="round"/></g>
<polyline points="378.9,392.0 378.8,404.0" fill="none" stroke="#ff7000" stroke-width="1.6" />
<polyline points="378.9,390.0 378.9,398.0" fill="none" stroke="#ffc000" stroke-width="1.0" />
<polyline points="360.0,262.0 360.5,272.0 361.6,279.6 364.9,297.0 368.2,318.0 371.8,345.0 375.5,370.0 378.9,395.6" fill="none" stroke="#ffff20" stroke-width="1.2" />
<polyline points="394.9,290.0 393.2,297.0 390.4,318.0 386.5,345.0 382.7,370.0 378.9,395.6" fill="none" stroke="#ffff20" stroke-width="1.2" />
<polygon points="463.6,277.0 465.2,279.6 468.5,297.0 471.8,318.0 475.4,345.0 479.1,370.0 482.5,395.6 482.5,395.6 486.3,370.0 490.1,345.0 494.0,318.0 496.8,297.0 498.5,290.0 497.7,345.0 497.4,412.9 478.9,412.9 478.7,407.4 464.8,407.4 464.4,345.0" fill="#960408" />
<polygon points="463.5,253.0 463.6,262.0 464.1,272.0 465.2,279.6 468.5,297.0 471.8,318.0 475.4,345.0 479.1,370.0 482.5,390.0 482.5,390.0 481.5,370.0 480.1,345.0 478.1,320.0 476.0,300.0 474.3,282.0 472.1,266.0 470.8,253.0" fill="#0efd16" /><clipPath id="cp22"><polygon points="463.5,253.0 463.6,262.0 464.1,272.0 465.2,279.6 468.5,297.0 471.8,318.0 475.4,345.0 479.1,370.0 482.5,390.0 482.5,390.0 481.5,370.0 480.1,345.0 478.1,320.0 476.0,300.0 474.3,282.0 472.1,266.0 470.8,253.0" fill="#000" /></clipPath><g clip-path="url(#cp22)"><polyline points="463.6,262.0 464.1,272.0 465.2,279.6 468.5,297.0 471.8,318.0 475.4,345.0 479.1,370.0 482.5,395.6" fill="none" stroke="#a8ff18" stroke-width="2.8" stroke-linejoin="round"/></g>
<polygon points="495.2,253.0 498.9,253.0 498.7,275.0 498.5,290.0 496.8,297.0 494.0,318.0 490.1,345.0 486.3,370.0 482.5,390.0 482.5,390.0 483.6,370.0 485.2,345.0 487.8,318.0 489.8,300.0 493.0,282.0 494.4,269.7 495.2,253.0" fill="#0efd16" /><clipPath id="cp23"><polygon points="495.2,253.0 498.9,253.0 498.7,275.0 498.5,290.0 496.8,297.0 494.0,318.0 490.1,345.0 486.3,370.0 482.5,390.0 482.5,390.0 483.6,370.0 485.2,345.0 487.8,318.0 489.8,300.0 493.0,282.0 494.4,269.7 495.2,253.0" fill="#000" /></clipPath><g clip-path="url(#cp23)"><polyline points="498.5,290.0 496.8,297.0 494.0,318.0 490.1,345.0 486.3,370.0 482.5,395.6" fill="none" stroke="#a8ff18" stroke-width="2.8" stroke-linejoin="round"/></g>
<clipPath id="cp24"><polygon points="463.6,277.0 465.2,279.6 468.5,297.0 471.8,318.0 475.4,345.0 479.1,370.0 482.5,395.6 482.5,395.6 486.3,370.0 490.1,345.0 494.0,318.0 496.8,297.0 498.5,290.0 497.7,345.0 497.4,412.9 478.9,412.9 478.7,407.4 464.8,407.4 464.4,345.0" fill="#000" /></clipPath><g clip-path="url(#cp24)"><polyline points="463.6,262.0 464.1,272.0 465.2,279.6 468.5,297.0 471.8,318.0 475.4,345.0 479.1,370.0 482.5,395.6" fill="none" stroke="#a80008" stroke-width="11.0" stroke-linejoin="round"/><polyline points="463.6,262.0 464.1,272.0 465.2,279.6 468.5,297.0 471.8,318.0 475.4,345.0 479.1,370.0 482.5,395.6" fill="none" stroke="#c40004" stroke-width="8.0" stroke-linejoin="round"/><polyline points="463.6,262.0 464.1,272.0 465.2,279.6 468.5,297.0 471.8,318.0 475.4,345.0 479.1,370.0 482.5,395.6" fill="none" stroke="#de0800" stroke-width="5.6" stroke-linejoin="round"/><polyline points="463.6,262.0 464.1,272.0 465.2,279.6 468.5,297.0 471.8,318.0 475.4,345.0 479.1,370.0 482.5,395.6" fill="none" stroke="#f42c00" stroke-width="3.6" stroke-linejoin="round"/><polyline points="463.6,262.0 464.1,272.0 465.2,279.6 468.5,297.0 471.8,318.0 475.4,345.0 479.1,370.0 482.5,395.6" fill="none" stroke="#ff8000" stroke-width="2.2" stroke-linejoin="round"/><polyline points="463.6,262.0 464.1,272.0 465.2,279.6 468.5,297.0 471.8,318.0 475.4,345.0 479.1,370.0 482.5,395.6" fill="none" stroke="#ffd020" stroke-width="1.1" stroke-linejoin="round"/><polyline points="498.5,290.0 496.8,297.0 494.0,318.0 490.1,345.0 486.3,370.0 482.5,395.6" fill="none" stroke="#a80008" stroke-width="11.0" stroke-linejoin="round"/><polyline points="498.5,290.0 496.8,297.0 494.0,318.0 490.1,345.0 486.3,370.0 482.5,395.6" fill="none" stroke="#c40004" stroke-width="8.0" stroke-linejoin="round"/><polyline points="498.5,290.0 496.8,297.0 494.0,318.0 490.1,345.0 486.3,370.0 482.5,395.6" fill="none" stroke="#de0800" stroke-width="5.6" stroke-linejoin="round"/><polyline points="498.5,290.0 496.8,297.0 494.0,318.0 490.1,345.0 486.3,370.0 482.5,395.6" fill="none" stroke="#f42c00" stroke-width="3.6" stroke-linejoin="round"/><polyline points="498.5,290.0 496.8,297.0 494.0,318.0 490.1,345.0 486.3,370.0 482.5,395.6" fill="none" stroke="#ff8000" stroke-width="2.2" stroke-linejoin="round"/><polyline points="498.5,290.0 496.8,297.0 494.0,318.0 490.1,345.0 486.3,370.0 482.5,395.6" fill="none" stroke="#ffd020" stroke-width="1.1" stroke-linejoin="round"/></g>
<polyline points="482.5,392.0 482.4,404.0" fill="none" stroke="#ff7000" stroke-width="1.6" />
<polyline points="482.5,390.0 482.5,398.0" fill="none" stroke="#ffc000" stroke-width="1.0" />
<polyline points="463.6,262.0 464.1,272.0 465.2,279.6 468.5,297.0 471.8,318.0 475.4,345.0 479.1,370.0 482.5,395.6" fill="none" stroke="#ffff20" stroke-width="1.2" />
<polyline points="498.5,290.0 496.8,297.0 494.0,318.0 490.1,345.0 486.3,370.0 482.5,395.6" fill="none" stroke="#ffff20" stroke-width="1.2" />
<path d="M355.3 381.4 Q358.8 390.2 355.3 399.0" fill="none" stroke="#8a1a20" stroke-width="1.3" stroke-dasharray="5,1.5"/><path d="M355.3 397.0 l1 -5 l1 5 z" fill="#e08040"/>
<path d="M405.6 366.0 L405.2 377.5" stroke="#9c1428" stroke-width="2.1" stroke-linecap="round" fill="none"/>
<path d="M408.6 379.6 Q409.6 388.0 407.7 398.4" stroke="#a01830" stroke-width="1.6" fill="none"/>
<path d="M402.7 412.5 L403.3 402.6 L405.9 396.3 L403.9 391.1 L406.1 383.8" stroke="#b02040" stroke-width="1.5" fill="none" stroke-linejoin="round"/>
<path d="M404.7 405.7 L407.9 398.4" stroke="#c04858" stroke-width="1.2" fill="none"/>
<path d="M403.5 412.7 L403.7 406.7" stroke="#901018" stroke-width="2.2" fill="none"/>
<path d="M457.3 366.0 L456.9 377.5" stroke="#9c1428" stroke-width="2.1" stroke-linecap="round" fill="none"/>
<path d="M460.3 379.6 Q461.3 388.0 459.4 398.4" stroke="#a01830" stroke-width="1.6" fill="none"/>
<path d="M454.4 412.5 L455.0 402.6 L457.6 396.3 L455.6 391.1 L457.8 383.8" stroke="#b02040" stroke-width="1.5" fill="none" stroke-linejoin="round"/>
<path d="M456.4 405.7 L459.6 398.4" stroke="#c04858" stroke-width="1.2" fill="none"/>
<path d="M455.2 412.7 L455.4 406.7" stroke="#901018" stroke-width="2.2" fill="none"/>
<path d="M509.0 366.0 L508.6 377.5" stroke="#9c1428" stroke-width="2.1" stroke-linecap="round" fill="none"/>
<path d="M512.0 379.6 Q513.0 388.0 511.1 398.4" stroke="#a01830" stroke-width="1.6" fill="none"/>
<path d="M506.1 412.5 L506.7 402.6 L509.3 396.3 L507.3 391.1 L509.5 383.8" stroke="#b02040" stroke-width="1.5" fill="none" stroke-linejoin="round"/>
<path d="M508.1 405.7 L511.3 398.4" stroke="#c04858" stroke-width="1.2" fill="none"/>
<path d="M506.9 412.7 L507.1 406.7" stroke="#901018" stroke-width="2.2" fill="none"/>
<path d="M559.3 390 L559.3 412" stroke="#a02020" stroke-width="1.5" stroke-dasharray="4,2"/>
<polyline points="353.6,250.7 354.6,250.8 355.7,251.3 356.7,252.1 357.7,253.2 358.8,254.6 359.8,256.4 360.8,258.4 361.9,260.7 362.9,263.3 363.9,266.2 365.0,269.3 366.0,272.7 367.0,276.3 368.1,280.1 369.1,284.1 370.1,288.3 371.2,292.7 372.2,297.3 373.2,301.9 374.3,306.7 375.3,311.6 376.3,316.6 377.4,321.7 378.4,326.7 379.5,331.8 380.5,336.9 381.5,342.0 382.6,347.0 383.6,352.0 384.6,356.9 385.7,361.7 386.7,366.4 387.7,370.9 388.8,375.3 389.8,379.5 390.8,383.6 391.9,387.4 392.9,391.0 393.9,394.4 395.0,397.5 396.0,400.4 397.0,403.0 398.1,405.3 399.1,407.3 400.1,409.0 401.2,410.4 402.2,411.6 403.2,412.4 404.3,412.8 405.3,413.0 406.3,412.8 407.4,412.4 408.4,411.6 409.4,410.4 410.5,409.0 411.5,407.3 412.5,405.3 413.6,403.0 414.6,400.4 415.6,397.5 416.7,394.4 417.7,391.0 418.7,387.4 419.8,383.6 420.8,379.5 421.8,375.3 422.9,370.9 423.9,366.4 424.9,361.7 426.0,356.9 427.0,352.0 428.0,347.0 429.1,342.0 430.1,336.9 431.1,331.8 432.2,326.7 433.2,321.7 434.3,316.6 435.3,311.6 436.3,306.7 437.4,301.9 438.4,297.3 439.4,292.7 440.5,288.3 441.5,284.1 442.5,280.1 443.6,276.3 444.6,272.7 445.6,269.3 446.7,266.2 447.7,263.3 448.7,260.7 449.8,258.4 450.8,256.4 451.8,254.6 452.9,253.2 453.9,252.1 454.9,251.3 456.0,250.8 457.0,250.7 458.0,250.8 459.1,251.3 460.1,252.1 461.1,253.2 462.2,254.6 463.2,256.4 464.2,258.4 465.3,260.7 466.3,263.3 467.3,266.2 468.4,269.3 469.4,272.7 470.4,276.3 471.5,280.1 472.5,284.1 473.5,288.3 474.6,292.7 475.6,297.3 476.6,301.9 477.7,306.7 478.7,311.6 479.7,316.6 480.8,321.7 481.8,326.7 482.9,331.8 483.9,336.9 484.9,342.0 486.0,347.0 487.0,352.0 488.0,356.9 489.1,361.7 490.1,366.4 491.1,370.9 492.2,375.3 493.2,379.5 494.2,383.6 495.3,387.4 496.3,391.0 497.3,394.4 498.4,397.5 499.4,400.4 500.4,403.0 501.5,405.3 502.5,407.3 503.5,409.0 504.6,410.4 505.6,411.6 506.6,412.4 507.7,412.8 508.7,413.0 509.7,412.8 510.8,412.4 511.8,411.6 512.8,410.4 513.9,409.0 514.9,407.3 515.9,405.3 517.0,403.0 518.0,400.4 519.0,397.5 520.1,394.4 521.1,391.0 522.1,387.4 523.2,383.6 524.2,379.5 525.2,375.3 526.3,370.9 527.3,366.4 528.3,361.7 529.4,356.9 530.4,352.0 531.4,347.0 532.5,342.0 533.5,336.9 534.5,331.8 535.6,326.7 536.6,321.7 537.7,316.6 538.7,311.6 539.7,306.7 540.8,301.9 541.8,297.3 542.8,292.7 543.9,288.3 544.9,284.1 545.9,280.1 547.0,276.3 548.0,272.7 549.0,269.3 550.1,266.2 551.1,263.3 552.1,260.7 553.2,258.4 554.2,256.4 555.2,254.6 556.3,253.2 557.3,252.1 558.3,251.3 559.4,250.8 560.4,250.7" fill="none" stroke="#000" stroke-width="1.05" stroke-dasharray="6.3,4.2" stroke-opacity="0.27"/>
<line x1="352.9" y1="250.7" x2="561.1" y2="250.7" stroke="#111" stroke-width="1.4"/>
<line x1="352.9" y1="413.0" x2="561.1" y2="413.0" stroke="#111" stroke-width="1.4"/>
<line x1="353.6" y1="250.7" x2="353.6" y2="413.0" stroke="#7a7a7a" stroke-width="1.5"/>
<line x1="560.4" y1="250.7" x2="560.4" y2="413.0" stroke="#666" stroke-width="1.4"/>
<line x1="353.6" y1="242.7" x2="353.6" y2="250.7" stroke="#111" stroke-width="1.6"/>
<line x1="353.6" y1="413.0" x2="353.6" y2="421.0" stroke="#111" stroke-width="1.6"/>
<line x1="405.3" y1="242.7" x2="405.3" y2="250.7" stroke="#111" stroke-width="1.6"/>
<line x1="405.3" y1="413.0" x2="405.3" y2="421.0" stroke="#111" stroke-width="1.6"/>
<line x1="457.0" y1="242.7" x2="457.0" y2="250.7" stroke="#111" stroke-width="1.6"/>
<line x1="457.0" y1="413.0" x2="457.0" y2="421.0" stroke="#111" stroke-width="1.6"/>
<line x1="508.7" y1="242.7" x2="508.7" y2="250.7" stroke="#111" stroke-width="1.6"/>
<line x1="508.7" y1="413.0" x2="508.7" y2="421.0" stroke="#111" stroke-width="1.6"/>
<line x1="560.4" y1="242.7" x2="560.4" y2="250.7" stroke="#111" stroke-width="1.6"/>
<line x1="560.4" y1="413.0" x2="560.4" y2="421.0" stroke="#111" stroke-width="1.6"/>
<line x1="346.6" y1="413.0" x2="353.6" y2="413.0" stroke="#111" stroke-width="1.6"/>
<line x1="346.6" y1="380.5" x2="353.6" y2="380.5" stroke="#111" stroke-width="1.6"/>
<line x1="346.6" y1="348.1" x2="353.6" y2="348.1" stroke="#111" stroke-width="1.6"/>
<line x1="346.6" y1="315.6" x2="353.6" y2="315.6" stroke="#111" stroke-width="1.6"/>
<line x1="346.6" y1="283.1" x2="353.6" y2="283.1" stroke="#111" stroke-width="1.6"/>
<line x1="346.6" y1="250.7" x2="353.6" y2="250.7" stroke="#111" stroke-width="1.6"/>
<line x1="560.4" y1="250.7" x2="566.9" y2="250.7" stroke="#111" stroke-width="2.6"/>
<line x1="560.4" y1="292.6" x2="566.9" y2="292.6" stroke="#111" stroke-width="1.6"/>
<line x1="560.4" y1="329.1" x2="566.9" y2="329.1" stroke="#111" stroke-width="1.6"/>
<line x1="560.4" y1="371.6" x2="566.9" y2="371.6" stroke="#111" stroke-width="1.6"/>
<line x1="560.4" y1="413.0" x2="566.9" y2="413.0" stroke="#111" stroke-width="2.6"/>
<text x="353.6" y="450.5" class="tk" text-anchor="middle" transform="translate(353.6 0) scale(0.83 1) translate(-353.6 0)">0</text>
<text x="405.3" y="450.5" class="tk" text-anchor="middle" transform="translate(405.3 0) scale(0.83 1) translate(-405.3 0)">1</text>
<text x="457.0" y="450.5" class="tk" text-anchor="middle" transform="translate(457.0 0) scale(0.83 1) translate(-457.0 0)">2</text>
<text x="508.7" y="450.5" class="tk" text-anchor="middle" transform="translate(508.7 0) scale(0.83 1) translate(-508.7 0)">3</text>
<text x="560.4" y="450.5" class="tk" text-anchor="middle" transform="translate(560.4 0) scale(0.83 1) translate(-560.4 0)">4</text>
<text x="344.2" y="422.7" class="tk" text-anchor="end" transform="translate(344.2 0) scale(0.8 1) translate(-344.2 0)">0</text>
<text x="344.2" y="390.2" class="tk" text-anchor="end" transform="translate(344.2 0) scale(0.8 1) translate(-344.2 0)">0.1</text>
<text x="344.2" y="357.8" class="tk" text-anchor="end" transform="translate(344.2 0) scale(0.8 1) translate(-344.2 0)">0.2</text>
<text x="344.2" y="325.3" class="tk" text-anchor="end" transform="translate(344.2 0) scale(0.8 1) translate(-344.2 0)">0.3</text>
<text x="344.2" y="292.8" class="tk" text-anchor="end" transform="translate(344.2 0) scale(0.8 1) translate(-344.2 0)">0.4</text>
<text x="344.2" y="260.4" class="tk" text-anchor="end" transform="translate(344.2 0) scale(0.8 1) translate(-344.2 0)">0.5</text>
<text x="518.4" y="277.3" class="bl">(d)</text>
<text x="580.2" y="258.3" class="rt">1</text>
<text x="580.2" y="296.2" class="rt">0.5</text>
<text x="580.2" y="334.0" class="rt">0</text>
<text x="580.2" y="375.7" class="rt">-0.5</text>
<text x="580.2" y="415.4" class="rt">-1</text>
<text x="450.0" y="352.5" style="font-size:16.5px;fill:#111">A</text>
<text x="502.5" y="352.5" style="font-size:16.5px;fill:#111">B</text>
<text x="439.5" y="396.8" style="font-size:16.5px;fill:#111">C</text>
<text x="515.0" y="396.8" style="font-size:16.5px;fill:#111">D</text>
<text transform="translate(17 125.2) rotate(-90)" class="yl">v<tspan font-size="13" fill="#888" dy="2">⊥</tspan><tspan font-size="12" dy="-1">0</tspan><tspan dy="-1">(a.u.)</tspan></text>
<text transform="translate(17 362.9) rotate(-90)" class="yl">v<tspan font-size="13" fill="#888" dy="2">⊥</tspan><tspan font-size="12" dy="-1">0</tspan><tspan dy="-1">(a.u.)</tspan></text>
<text x="101.2" y="474.8" class="lab" textLength="132.8" lengthAdjust="spacingAndGlyphs">Initial phase(π)</text>
<text x="377.2" y="474.8" class="lab" textLength="132.5" lengthAdjust="spacingAndGlyphs">Initial phase(π)</text>
<rect x="647.1" y="7.1" width="12.9" height="171.2" fill="url(#cbar)"/>
<text x="661.5" y="12.4" class="cb">-5</text>
<text x="661.5" y="46.6" class="cb">-6</text>
<text x="661.5" y="80.9" class="cb">-7</text>
<text x="661.5" y="115.1" class="cb">-8</text>
<text x="661.5" y="149.4" class="cb">-9</text>
<text x="661.5" y="183.6" class="cb">-10</text>
<rect x="647.1" y="242.7" width="12.9" height="166.7" fill="url(#cbar)"/>
<text x="661.5" y="248.0" class="cb">-15</text>
<text x="661.5" y="281.3" class="cb">-16</text>
<text x="661.5" y="314.7" class="cb">-17</text>
<text x="661.5" y="348.0" class="cb">-18</text>
<text x="661.5" y="381.4" class="cb">-19</text>
<text x="661.5" y="414.7" class="cb">-20</text>
<text transform="translate(625.9 188.8) rotate(-90)" style="font-size:17px;fill:#222" textLength="185.5" lengthAdjust="spacingAndGlyphs">Normalized electric field</text>
<text transform="translate(631.6 427.3) rotate(-90)" style="font-size:17px;fill:#222" textLength="186.4" lengthAdjust="spacingAndGlyphs">Normalized electric field</text>
<polyline points="97.7,625.7 98.8,626.1 99.9,625.8 101.0,626.1 102.1,626.0 103.2,625.2 104.3,625.0 105.4,626.0 106.5,625.0 107.6,624.8 108.7,625.7 109.8,624.7 110.9,625.0 112.0,624.2 113.1,624.2 114.2,623.2 115.3,623.6 116.4,623.6 117.5,622.8 118.6,622.8 119.7,622.3 120.8,621.1 121.9,621.7 123.0,621.1 124.1,620.2 125.2,619.4 126.3,620.1 127.4,619.1 128.5,619.0 129.6,618.7 130.7,618.0 131.8,617.8 132.9,616.5 134.0,616.5 135.1,615.5 136.2,615.6 137.3,614.9 138.4,613.2 139.5,612.7 140.6,612.2 141.7,612.6 142.8,611.2 143.9,610.8 145.0,609.7 146.1,609.3 147.2,608.5 148.3,607.7 149.4,607.4 150.5,606.6 151.6,606.4 152.7,605.3 153.8,604.9 154.9,604.1 156.0,603.5 157.1,602.3 158.2,600.8 159.3,601.0 160.4,600.4 161.5,599.5 162.6,598.2 163.7,597.6 164.8,596.1 165.9,596.1 167.0,594.9 168.1,593.7 169.2,592.5 170.3,592.8 171.4,592.1 172.5,590.0 173.6,590.2 174.7,588.7 175.8,587.5 176.9,586.8 178.0,586.6 179.1,585.9 180.2,583.8 181.3,583.7 182.4,582.0 183.5,582.1 184.6,580.6 185.7,580.5 186.8,579.7 187.9,578.2 189.0,577.9 190.1,576.1 191.2,574.8 192.3,574.6 193.4,572.9 194.5,572.2 195.6,571.6 196.7,571.0 197.8,569.4 198.9,568.3 200.0,568.6 201.1,566.9 202.2,566.9 203.3,565.9 204.4,564.2 205.5,563.4 206.6,562.6 207.7,561.9 208.8,560.9 209.9,559.9 211.0,559.1 212.1,558.7 213.2,557.1 214.3,556.1 215.4,555.6 216.5,554.1 217.6,553.3 218.7,553.3 219.8,551.8 220.9,551.0 222.0,549.4 223.1,549.1 224.2,548.4 225.3,546.8 226.4,546.8 227.5,545.9 228.6,544.3 229.7,544.2 230.8,543.2 231.9,542.6 233.0,541.4 234.1,541.0 235.2,540.3 236.3,538.5 237.4,537.7 238.5,537.8 239.6,537.4 240.7,535.6 241.8,535.2 242.9,534.6 244.0,533.4 245.1,532.8 246.2,531.9 247.3,531.3 248.4,530.9 249.5,529.8 250.6,529.2 251.7,529.0 252.8,527.3 253.9,527.3 255.0,526.9 256.1,525.6 257.2,524.9 258.3,525.0 259.4,523.6 260.5,522.9 261.6,522.6 262.7,522.4 263.8,521.0 264.9,520.7 266.0,520.1 267.1,520.2 268.2,519.1 269.3,519.2 270.4,517.7 271.5,517.4 272.6,517.3 273.7,517.1 274.8,516.0 275.9,515.2 277.0,514.6 278.1,514.7 279.2,513.8 280.3,514.2 281.4,513.8 282.5,512.5 283.6,512.2 284.7,512.6 285.8,512.0 286.9,511.8 288.0,510.8 289.1,510.2 290.2,510.1 291.3,510.4 292.4,509.4 293.5,509.2 294.6,509.0 295.7,508.7 296.8,508.5 297.9,508.9 299.0,507.6 300.1,507.2 301.2,508.3 302.3,508.0 303.4,508.0 304.5,507.0 305.6,507.6 306.7,507.4 307.8,506.3 308.9,506.9 310.0,506.9 311.1,506.6 312.2,506.3 313.3,505.9 314.4,505.9 315.5,505.7 316.6,505.4 317.7,506.1 318.8,505.7 319.9,506.4 321.0,505.4 322.1,506.6 323.2,506.4 324.3,506.7 325.4,506.8 326.5,506.9 327.6,506.5 328.7,505.8 329.8,507.0 330.9,506.3 332.0,506.6 333.1,507.3 334.2,507.3 335.3,507.3 336.4,508.2 337.5,508.0 338.6,507.8 339.7,507.9 340.8,509.0 341.9,508.7 343.0,509.4 344.1,509.1 345.2,509.2 346.3,510.0 347.4,510.7 348.5,510.1 349.6,511.3 350.7,511.8 351.8,512.0 352.9,512.4 354.0,511.7 355.1,513.0 356.2,513.7 357.3,513.0 358.4,513.7 359.5,514.2 360.6,515.0 361.7,515.3 362.8,515.9 363.9,516.8 365.0,516.2 366.1,516.8 367.2,517.4 368.3,517.9 369.4,518.4 370.5,520.2 371.6,520.6 372.7,520.1 373.8,521.3 374.9,521.6 376.0,522.2 377.1,522.9 378.2,523.9 379.3,524.5 380.4,524.8 381.5,525.2 382.6,526.1 383.7,526.5 384.8,527.8 385.9,528.7 387.0,528.9 388.1,529.2 389.2,530.0 390.3,531.0 391.4,532.1 392.5,533.1 393.6,533.3 394.7,534.6 395.8,535.1 396.9,535.6 398.0,536.3 399.1,537.3 400.2,538.3 401.3,538.7 402.4,539.9 403.5,540.4 404.6,540.9 405.7,542.1 406.8,543.2 407.9,543.2 409.0,544.5 410.1,545.3 411.2,546.8 412.3,547.7 413.4,547.8 414.5,549.4 415.6,550.1 416.7,550.3 417.8,551.4 418.9,551.8 420.0,553.7 421.1,554.4 422.2,555.6 423.3,556.3 424.4,557.0 425.5,558.0 426.6,558.7 427.7,559.0 428.8,560.5 429.9,560.6 431.0,561.7 432.1,563.5 433.2,563.4 434.3,564.4 435.4,565.3 436.5,567.4 437.6,567.3 438.7,568.0 439.8,570.1 440.9,570.0 442.0,571.9 443.1,572.6 444.2,573.7 445.3,574.8 446.4,575.2 447.5,576.4 448.6,576.3 449.7,578.2 450.8,578.7 451.9,579.9 453.0,580.0 454.1,581.8 455.2,583.0 456.3,582.6 457.4,583.9 458.5,585.1 459.6,586.4 460.7,586.4 461.8,587.2 462.9,588.2 464.0,589.6 465.1,590.6 466.2,591.0 467.3,591.8 468.4,592.7 469.5,593.5 470.6,594.4 471.7,594.8 472.8,596.2 473.9,597.7 475.0,597.7 476.1,599.0 477.2,599.0 478.3,600.5 479.4,601.4 480.5,602.0 481.6,602.6 482.7,603.3 483.8,604.3 484.9,605.4 486.0,605.1 487.1,605.7 488.2,607.3 489.3,608.3 490.4,608.4 491.5,609.0 492.6,610.1 493.7,610.0 494.8,610.7 495.9,611.3 497.0,612.5 498.1,612.7 499.2,613.2 500.3,614.4 501.4,615.4 502.5,615.0 503.6,616.2 504.7,616.3 505.8,617.5 506.9,617.6 508.0,617.7 509.1,618.1 510.2,618.3 511.3,619.4 512.4,619.7 513.5,619.9 514.6,620.6 515.7,620.9 516.8,622.0 517.9,621.5 519.0,623.0 520.1,622.6 521.2,623.1 522.3,623.3 523.4,624.1 524.5,624.4 525.6,624.3 526.7,624.4 527.8,625.0 528.9,625.4 530.0,624.9 531.1,625.6 532.2,626.1 533.3,625.5 534.4,625.3 535.5,625.5 536.6,626.2 537.7,626.2 538.8,626.7 539.9,626.6 541.0,625.8" fill="none" stroke="#1e8a1e" stroke-width="3.0" stroke-linejoin="round"/>
<rect x="96.6" y="624.3" width="2.2" height="2.2" fill="#1a8a1a" transform="rotate(45 97.7 625.7)"/>
<rect x="98.8" y="624.5" width="2.2" height="2.2" fill="#1a8a1a" transform="rotate(45 99.9 625.8)"/>
<rect x="101.0" y="624.6" width="2.2" height="2.2" fill="#1a8a1a" transform="rotate(45 102.1 626.0)"/>
<rect x="103.2" y="624.1" width="2.2" height="2.2" fill="#1a8a1a" transform="rotate(45 104.3 625.0)"/>
<rect x="105.4" y="624.3" width="2.2" height="2.2" fill="#1a8a1a" transform="rotate(45 106.5 625.0)"/>
<rect x="107.6" y="625.0" width="2.2" height="2.2" fill="#1a8a1a" transform="rotate(45 108.7 625.7)"/>
<rect x="109.8" y="623.6" width="2.2" height="2.2" fill="#1a8a1a" transform="rotate(45 110.9 625.0)"/>
<rect x="112.0" y="623.5" width="2.2" height="2.2" fill="#1a8a1a" transform="rotate(45 113.1 624.2)"/>
<rect x="114.2" y="622.3" width="2.2" height="2.2" fill="#1a8a1a" transform="rotate(45 115.3 623.6)"/>
<rect x="116.4" y="621.7" width="2.2" height="2.2" fill="#1a8a1a" transform="rotate(45 117.5 622.8)"/>
<rect x="118.6" y="621.5" width="2.2" height="2.2" fill="#1a8a1a" transform="rotate(45 119.7 622.3)"/>
<rect x="120.8" y="620.2" width="2.2" height="2.2" fill="#1a8a1a" transform="rotate(45 121.9 621.7)"/>
<rect x="123.0" y="618.7" width="2.2" height="2.2" fill="#1a8a1a" transform="rotate(45 124.1 620.2)"/>
<rect x="125.2" y="619.4" width="2.2" height="2.2" fill="#1a8a1a" transform="rotate(45 126.3 620.1)"/>
<rect x="127.4" y="617.7" width="2.2" height="2.2" fill="#1a8a1a" transform="rotate(45 128.5 619.0)"/>
<rect x="129.6" y="616.7" width="2.2" height="2.2" fill="#1a8a1a" transform="rotate(45 130.7 618.0)"/>
<rect x="131.8" y="615.5" width="2.2" height="2.2" fill="#1a8a1a" transform="rotate(45 132.9 616.5)"/>
<rect x="134.0" y="614.5" width="2.2" height="2.2" fill="#1a8a1a" transform="rotate(45 135.1 615.5)"/>
<rect x="136.2" y="613.3" width="2.2" height="2.2" fill="#1a8a1a" transform="rotate(45 137.3 614.9)"/>
<rect x="138.4" y="611.4" width="2.2" height="2.2" fill="#1a8a1a" transform="rotate(45 139.5 612.7)"/>
<rect x="140.6" y="611.4" width="2.2" height="2.2" fill="#1a8a1a" transform="rotate(45 141.7 612.6)"/>
<rect x="142.8" y="609.7" width="2.2" height="2.2" fill="#1a8a1a" transform="rotate(45 143.9 610.8)"/>
<rect x="145.0" y="607.9" width="2.2" height="2.2" fill="#1a8a1a" transform="rotate(45 146.1 609.3)"/>
<rect x="147.2" y="606.7" width="2.2" height="2.2" fill="#1a8a1a" transform="rotate(45 148.3 607.7)"/>
<rect x="149.4" y="606.0" width="2.2" height="2.2" fill="#1a8a1a" transform="rotate(45 150.5 606.6)"/>
<rect x="151.6" y="604.1" width="2.2" height="2.2" fill="#1a8a1a" transform="rotate(45 152.7 605.3)"/>
<rect x="153.8" y="603.0" width="2.2" height="2.2" fill="#1a8a1a" transform="rotate(45 154.9 604.1)"/>
<rect x="156.0" y="600.8" width="2.2" height="2.2" fill="#1a8a1a" transform="rotate(45 157.1 602.3)"/>
<rect x="158.2" y="599.7" width="2.2" height="2.2" fill="#1a8a1a" transform="rotate(45 159.3 601.0)"/>
<rect x="160.4" y="598.6" width="2.2" height="2.2" fill="#1a8a1a" transform="rotate(45 161.5 599.5)"/>
<rect x="162.6" y="596.1" width="2.2" height="2.2" fill="#1a8a1a" transform="rotate(45 163.7 597.6)"/>
<rect x="164.8" y="595.4" width="2.2" height="2.2" fill="#1a8a1a" transform="rotate(45 165.9 596.1)"/>
<rect x="167.0" y="593.0" width="2.2" height="2.2" fill="#1a8a1a" transform="rotate(45 168.1 593.7)"/>
<rect x="169.2" y="591.3" width="2.2" height="2.2" fill="#1a8a1a" transform="rotate(45 170.3 592.8)"/>
<rect x="171.4" y="589.4" width="2.2" height="2.2" fill="#1a8a1a" transform="rotate(45 172.5 590.0)"/>
<rect x="173.6" y="587.5" width="2.2" height="2.2" fill="#1a8a1a" transform="rotate(45 174.7 588.7)"/>
<rect x="175.8" y="586.0" width="2.2" height="2.2" fill="#1a8a1a" transform="rotate(45 176.9 586.8)"/>
<rect x="178.0" y="585.0" width="2.2" height="2.2" fill="#1a8a1a" transform="rotate(45 179.1 585.9)"/>
<rect x="180.2" y="582.4" width="2.2" height="2.2" fill="#1a8a1a" transform="rotate(45 181.3 583.7)"/>
<rect x="182.4" y="581.2" width="2.2" height="2.2" fill="#1a8a1a" transform="rotate(45 183.5 582.1)"/>
<rect x="184.6" y="579.6" width="2.2" height="2.2" fill="#1a8a1a" transform="rotate(45 185.7 580.5)"/>
<rect x="186.8" y="577.4" width="2.2" height="2.2" fill="#1a8a1a" transform="rotate(45 187.9 578.2)"/>
<rect x="189.0" y="574.7" width="2.2" height="2.2" fill="#1a8a1a" transform="rotate(45 190.1 576.1)"/>
<rect x="191.2" y="573.8" width="2.2" height="2.2" fill="#1a8a1a" transform="rotate(45 192.3 574.6)"/>
<rect x="193.4" y="571.6" width="2.2" height="2.2" fill="#1a8a1a" transform="rotate(45 194.5 572.2)"/>
<rect x="195.6" y="570.1" width="2.2" height="2.2" fill="#1a8a1a" transform="rotate(45 196.7 571.0)"/>
<rect x="197.8" y="567.3" width="2.2" height="2.2" fill="#1a8a1a" transform="rotate(45 198.9 568.3)"/>
<rect x="200.0" y="565.4" width="2.2" height="2.2" fill="#1a8a1a" transform="rotate(45 201.1 566.9)"/>
<rect x="202.2" y="564.8" width="2.2" height="2.2" fill="#1a8a1a" transform="rotate(45 203.3 565.9)"/>
<rect x="204.4" y="562.2" width="2.2" height="2.2" fill="#1a8a1a" transform="rotate(45 205.5 563.4)"/>
<rect x="206.6" y="561.0" width="2.2" height="2.2" fill="#1a8a1a" transform="rotate(45 207.7 561.9)"/>
<rect x="208.8" y="559.0" width="2.2" height="2.2" fill="#1a8a1a" transform="rotate(45 209.9 559.9)"/>
<rect x="211.0" y="557.6" width="2.2" height="2.2" fill="#1a8a1a" transform="rotate(45 212.1 558.7)"/>
<rect x="213.2" y="554.7" width="2.2" height="2.2" fill="#1a8a1a" transform="rotate(45 214.3 556.1)"/>
<rect x="215.4" y="553.1" width="2.2" height="2.2" fill="#1a8a1a" transform="rotate(45 216.5 554.1)"/>
<rect x="217.6" y="552.4" width="2.2" height="2.2" fill="#1a8a1a" transform="rotate(45 218.7 553.3)"/>
<rect x="219.8" y="549.6" width="2.2" height="2.2" fill="#1a8a1a" transform="rotate(45 220.9 551.0)"/>
<rect x="222.0" y="548.3" width="2.2" height="2.2" fill="#1a8a1a" transform="rotate(45 223.1 549.1)"/>
<rect x="224.2" y="545.8" width="2.2" height="2.2" fill="#1a8a1a" transform="rotate(45 225.3 546.8)"/>
<rect x="226.4" y="544.5" width="2.2" height="2.2" fill="#1a8a1a" transform="rotate(45 227.5 545.9)"/>
<rect x="228.6" y="543.6" width="2.2" height="2.2" fill="#1a8a1a" transform="rotate(45 229.7 544.2)"/>
<rect x="230.8" y="541.2" width="2.2" height="2.2" fill="#1a8a1a" transform="rotate(45 231.9 542.6)"/>
<rect x="233.0" y="539.8" width="2.2" height="2.2" fill="#1a8a1a" transform="rotate(45 234.1 541.0)"/>
<rect x="235.2" y="537.6" width="2.2" height="2.2" fill="#1a8a1a" transform="rotate(45 236.3 538.5)"/>
<rect x="237.4" y="536.8" width="2.2" height="2.2" fill="#1a8a1a" transform="rotate(45 238.5 537.8)"/>
<rect x="239.6" y="534.6" width="2.2" height="2.2" fill="#1a8a1a" transform="rotate(45 240.7 535.6)"/>
<rect x="241.8" y="533.6" width="2.2" height="2.2" fill="#1a8a1a" transform="rotate(45 242.9 534.6)"/>
<rect x="244.0" y="531.6" width="2.2" height="2.2" fill="#1a8a1a" transform="rotate(45 245.1 532.8)"/>
<rect x="246.2" y="530.0" width="2.2" height="2.2" fill="#1a8a1a" transform="rotate(45 247.3 531.3)"/>
<rect x="248.4" y="528.3" width="2.2" height="2.2" fill="#1a8a1a" transform="rotate(45 249.5 529.8)"/>
<rect x="250.6" y="527.5" width="2.2" height="2.2" fill="#1a8a1a" transform="rotate(45 251.7 529.0)"/>
<rect x="252.8" y="526.5" width="2.2" height="2.2" fill="#1a8a1a" transform="rotate(45 253.9 527.3)"/>
<rect x="255.0" y="524.8" width="2.2" height="2.2" fill="#1a8a1a" transform="rotate(45 256.1 525.6)"/>
<rect x="257.2" y="524.0" width="2.2" height="2.2" fill="#1a8a1a" transform="rotate(45 258.3 525.0)"/>
<rect x="259.4" y="522.0" width="2.2" height="2.2" fill="#1a8a1a" transform="rotate(45 260.5 522.9)"/>
<rect x="261.6" y="521.2" width="2.2" height="2.2" fill="#1a8a1a" transform="rotate(45 262.7 522.4)"/>
<rect x="263.8" y="519.3" width="2.2" height="2.2" fill="#1a8a1a" transform="rotate(45 264.9 520.7)"/>
<rect x="266.0" y="519.0" width="2.2" height="2.2" fill="#1a8a1a" transform="rotate(45 267.1 520.2)"/>
<rect x="268.2" y="518.4" width="2.2" height="2.2" fill="#1a8a1a" transform="rotate(45 269.3 519.2)"/>
<rect x="270.4" y="515.8" width="2.2" height="2.2" fill="#1a8a1a" transform="rotate(45 271.5 517.4)"/>
<rect x="272.6" y="516.0" width="2.2" height="2.2" fill="#1a8a1a" transform="rotate(45 273.7 517.1)"/>
<rect x="274.8" y="513.9" width="2.2" height="2.2" fill="#1a8a1a" transform="rotate(45 275.9 515.2)"/>
<rect x="277.0" y="513.9" width="2.2" height="2.2" fill="#1a8a1a" transform="rotate(45 278.1 514.7)"/>
<rect x="279.2" y="513.0" width="2.2" height="2.2" fill="#1a8a1a" transform="rotate(45 280.3 514.2)"/>
<rect x="281.4" y="511.2" width="2.2" height="2.2" fill="#1a8a1a" transform="rotate(45 282.5 512.5)"/>
<rect x="283.6" y="511.4" width="2.2" height="2.2" fill="#1a8a1a" transform="rotate(45 284.7 512.6)"/>
<rect x="285.8" y="510.8" width="2.2" height="2.2" fill="#1a8a1a" transform="rotate(45 286.9 511.8)"/>
<rect x="288.0" y="509.3" width="2.2" height="2.2" fill="#1a8a1a" transform="rotate(45 289.1 510.2)"/>
<rect x="290.2" y="509.2" width="2.2" height="2.2" fill="#1a8a1a" transform="rotate(45 291.3 510.4)"/>
<rect x="292.4" y="508.4" width="2.2" height="2.2" fill="#1a8a1a" transform="rotate(45 293.5 509.2)"/>
<rect x="294.6" y="507.3" width="2.2" height="2.2" fill="#1a8a1a" transform="rotate(45 295.7 508.7)"/>
<rect x="296.8" y="507.6" width="2.2" height="2.2" fill="#1a8a1a" transform="rotate(45 297.9 508.9)"/>
<rect x="299.0" y="505.7" width="2.2" height="2.2" fill="#1a8a1a" transform="rotate(45 300.1 507.2)"/>
<rect x="301.2" y="506.5" width="2.2" height="2.2" fill="#1a8a1a" transform="rotate(45 302.3 508.0)"/>
<rect x="303.4" y="506.2" width="2.2" height="2.2" fill="#1a8a1a" transform="rotate(45 304.5 507.0)"/>
<rect x="305.6" y="506.5" width="2.2" height="2.2" fill="#1a8a1a" transform="rotate(45 306.7 507.4)"/>
<rect x="307.8" y="505.5" width="2.2" height="2.2" fill="#1a8a1a" transform="rotate(45 308.9 506.9)"/>
<rect x="310.0" y="505.1" width="2.2" height="2.2" fill="#1a8a1a" transform="rotate(45 311.1 506.6)"/>
<rect x="312.2" y="504.7" width="2.2" height="2.2" fill="#1a8a1a" transform="rotate(45 313.3 505.9)"/>
<rect x="314.4" y="504.8" width="2.2" height="2.2" fill="#1a8a1a" transform="rotate(45 315.5 505.7)"/>
<rect x="316.6" y="505.3" width="2.2" height="2.2" fill="#1a8a1a" transform="rotate(45 317.7 506.1)"/>
<rect x="318.8" y="505.6" width="2.2" height="2.2" fill="#1a8a1a" transform="rotate(45 319.9 506.4)"/>
<rect x="321.0" y="505.6" width="2.2" height="2.2" fill="#1a8a1a" transform="rotate(45 322.1 506.6)"/>
<rect x="323.2" y="505.3" width="2.2" height="2.2" fill="#1a8a1a" transform="rotate(45 324.3 506.7)"/>
<rect x="325.4" y="505.7" width="2.2" height="2.2" fill="#1a8a1a" transform="rotate(45 326.5 506.9)"/>
<rect x="327.6" y="504.4" width="2.2" height="2.2" fill="#1a8a1a" transform="rotate(45 328.7 505.8)"/>
<rect x="329.8" y="505.2" width="2.2" height="2.2" fill="#1a8a1a" transform="rotate(45 330.9 506.3)"/>
<rect x="332.0" y="506.2" width="2.2" height="2.2" fill="#1a8a1a" transform="rotate(45 333.1 507.3)"/>
<rect x="334.2" y="505.9" width="2.2" height="2.2" fill="#1a8a1a" transform="rotate(45 335.3 507.3)"/>
<rect x="336.4" y="506.6" width="2.2" height="2.2" fill="#1a8a1a" transform="rotate(45 337.5 508.0)"/>
<rect x="338.6" y="507.1" width="2.2" height="2.2" fill="#1a8a1a" transform="rotate(45 339.7 507.9)"/>
<rect x="340.8" y="507.2" width="2.2" height="2.2" fill="#1a8a1a" transform="rotate(45 341.9 508.7)"/>
<rect x="343.0" y="508.3" width="2.2" height="2.2" fill="#1a8a1a" transform="rotate(45 344.1 509.1)"/>
<rect x="345.2" y="509.2" width="2.2" height="2.2" fill="#1a8a1a" transform="rotate(45 346.3 510.0)"/>
<rect x="347.4" y="509.4" width="2.2" height="2.2" fill="#1a8a1a" transform="rotate(45 348.5 510.1)"/>
<rect x="349.6" y="510.6" width="2.2" height="2.2" fill="#1a8a1a" transform="rotate(45 350.7 511.8)"/>
<rect x="351.8" y="511.4" width="2.2" height="2.2" fill="#1a8a1a" transform="rotate(45 352.9 512.4)"/>
<rect x="354.0" y="511.9" width="2.2" height="2.2" fill="#1a8a1a" transform="rotate(45 355.1 513.0)"/>
<rect x="356.2" y="512.0" width="2.2" height="2.2" fill="#1a8a1a" transform="rotate(45 357.3 513.0)"/>
<rect x="358.4" y="513.6" width="2.2" height="2.2" fill="#1a8a1a" transform="rotate(45 359.5 514.2)"/>
<rect x="360.6" y="514.4" width="2.2" height="2.2" fill="#1a8a1a" transform="rotate(45 361.7 515.3)"/>
<rect x="362.8" y="515.5" width="2.2" height="2.2" fill="#1a8a1a" transform="rotate(45 363.9 516.8)"/>
<rect x="365.0" y="516.1" width="2.2" height="2.2" fill="#1a8a1a" transform="rotate(45 366.1 516.8)"/>
<rect x="367.2" y="516.8" width="2.2" height="2.2" fill="#1a8a1a" transform="rotate(45 368.3 517.9)"/>
<rect x="369.4" y="519.2" width="2.2" height="2.2" fill="#1a8a1a" transform="rotate(45 370.5 520.2)"/>
<rect x="371.6" y="519.3" width="2.2" height="2.2" fill="#1a8a1a" transform="rotate(45 372.7 520.1)"/>
<rect x="373.8" y="520.0" width="2.2" height="2.2" fill="#1a8a1a" transform="rotate(45 374.9 521.6)"/>
<rect x="376.0" y="522.1" width="2.2" height="2.2" fill="#1a8a1a" transform="rotate(45 377.1 522.9)"/>
<rect x="378.2" y="523.6" width="2.2" height="2.2" fill="#1a8a1a" transform="rotate(45 379.3 524.5)"/>
<rect x="380.4" y="524.1" width="2.2" height="2.2" fill="#1a8a1a" transform="rotate(45 381.5 525.2)"/>
<rect x="382.6" y="525.4" width="2.2" height="2.2" fill="#1a8a1a" transform="rotate(45 383.7 526.5)"/>
<rect x="384.8" y="527.5" width="2.2" height="2.2" fill="#1a8a1a" transform="rotate(45 385.9 528.7)"/>
<rect x="387.0" y="527.8" width="2.2" height="2.2" fill="#1a8a1a" transform="rotate(45 388.1 529.2)"/>
<rect x="389.2" y="530.0" width="2.2" height="2.2" fill="#1a8a1a" transform="rotate(45 390.3 531.0)"/>
<rect x="391.4" y="531.5" width="2.2" height="2.2" fill="#1a8a1a" transform="rotate(45 392.5 533.1)"/>
<rect x="393.6" y="533.5" width="2.2" height="2.2" fill="#1a8a1a" transform="rotate(45 394.7 534.6)"/>
<rect x="395.8" y="534.7" width="2.2" height="2.2" fill="#1a8a1a" transform="rotate(45 396.9 535.6)"/>
<rect x="398.0" y="536.1" width="2.2" height="2.2" fill="#1a8a1a" transform="rotate(45 399.1 537.3)"/>
<rect x="400.2" y="537.7" width="2.2" height="2.2" fill="#1a8a1a" transform="rotate(45 401.3 538.7)"/>
<rect x="402.4" y="539.8" width="2.2" height="2.2" fill="#1a8a1a" transform="rotate(45 403.5 540.4)"/>
<rect x="404.6" y="541.4" width="2.2" height="2.2" fill="#1a8a1a" transform="rotate(45 405.7 542.1)"/>
<rect x="406.8" y="541.7" width="2.2" height="2.2" fill="#1a8a1a" transform="rotate(45 407.9 543.2)"/>
<rect x="409.0" y="544.5" width="2.2" height="2.2" fill="#1a8a1a" transform="rotate(45 410.1 545.3)"/>
<rect x="411.2" y="546.8" width="2.2" height="2.2" fill="#1a8a1a" transform="rotate(45 412.3 547.7)"/>
<rect x="413.4" y="547.9" width="2.2" height="2.2" fill="#1a8a1a" transform="rotate(45 414.5 549.4)"/>
<rect x="415.6" y="549.0" width="2.2" height="2.2" fill="#1a8a1a" transform="rotate(45 416.7 550.3)"/>
<rect x="417.8" y="550.5" width="2.2" height="2.2" fill="#1a8a1a" transform="rotate(45 418.9 551.8)"/>
<rect x="420.0" y="552.8" width="2.2" height="2.2" fill="#1a8a1a" transform="rotate(45 421.1 554.4)"/>
<rect x="422.2" y="555.3" width="2.2" height="2.2" fill="#1a8a1a" transform="rotate(45 423.3 556.3)"/>
<rect x="424.4" y="557.4" width="2.2" height="2.2" fill="#1a8a1a" transform="rotate(45 425.5 558.0)"/>
<rect x="426.6" y="557.7" width="2.2" height="2.2" fill="#1a8a1a" transform="rotate(45 427.7 559.0)"/>
<rect x="428.8" y="559.9" width="2.2" height="2.2" fill="#1a8a1a" transform="rotate(45 429.9 560.6)"/>
<rect x="431.0" y="562.6" width="2.2" height="2.2" fill="#1a8a1a" transform="rotate(45 432.1 563.5)"/>
<rect x="433.2" y="562.9" width="2.2" height="2.2" fill="#1a8a1a" transform="rotate(45 434.3 564.4)"/>
<rect x="435.4" y="566.6" width="2.2" height="2.2" fill="#1a8a1a" transform="rotate(45 436.5 567.4)"/>
<rect x="437.6" y="567.0" width="2.2" height="2.2" fill="#1a8a1a" transform="rotate(45 438.7 568.0)"/>
<rect x="439.8" y="569.3" width="2.2" height="2.2" fill="#1a8a1a" transform="rotate(45 440.9 570.0)"/>
<rect x="442.0" y="571.7" width="2.2" height="2.2" fill="#1a8a1a" transform="rotate(45 443.1 572.6)"/>
<rect x="444.2" y="573.9" width="2.2" height="2.2" fill="#1a8a1a" transform="rotate(45 445.3 574.8)"/>
<rect x="446.4" y="575.2" width="2.2" height="2.2" fill="#1a8a1a" transform="rotate(45 447.5 576.4)"/>
<rect x="448.6" y="577.4" width="2.2" height="2.2" fill="#1a8a1a" transform="rotate(45 449.7 578.2)"/>
<rect x="450.8" y="579.3" width="2.2" height="2.2" fill="#1a8a1a" transform="rotate(45 451.9 579.9)"/>
<rect x="453.0" y="581.1" width="2.2" height="2.2" fill="#1a8a1a" transform="rotate(45 454.1 581.8)"/>
<rect x="455.2" y="581.5" width="2.2" height="2.2" fill="#1a8a1a" transform="rotate(45 456.3 582.6)"/>
<rect x="457.4" y="584.3" width="2.2" height="2.2" fill="#1a8a1a" transform="rotate(45 458.5 585.1)"/>
<rect x="459.6" y="585.3" width="2.2" height="2.2" fill="#1a8a1a" transform="rotate(45 460.7 586.4)"/>
<rect x="461.8" y="586.7" width="2.2" height="2.2" fill="#1a8a1a" transform="rotate(45 462.9 588.2)"/>
<rect x="464.0" y="589.1" width="2.2" height="2.2" fill="#1a8a1a" transform="rotate(45 465.1 590.6)"/>
<rect x="466.2" y="590.3" width="2.2" height="2.2" fill="#1a8a1a" transform="rotate(45 467.3 591.8)"/>
<rect x="468.4" y="592.1" width="2.2" height="2.2" fill="#1a8a1a" transform="rotate(45 469.5 593.5)"/>
<rect x="470.6" y="593.3" width="2.2" height="2.2" fill="#1a8a1a" transform="rotate(45 471.7 594.8)"/>
<rect x="472.8" y="596.6" width="2.2" height="2.2" fill="#1a8a1a" transform="rotate(45 473.9 597.7)"/>
<rect x="475.0" y="598.1" width="2.2" height="2.2" fill="#1a8a1a" transform="rotate(45 476.1 599.0)"/>
<rect x="477.2" y="599.4" width="2.2" height="2.2" fill="#1a8a1a" transform="rotate(45 478.3 600.5)"/>
<rect x="479.4" y="600.9" width="2.2" height="2.2" fill="#1a8a1a" transform="rotate(45 480.5 602.0)"/>
<rect x="481.6" y="602.3" width="2.2" height="2.2" fill="#1a8a1a" transform="rotate(45 482.7 603.3)"/>
<rect x="483.8" y="604.1" width="2.2" height="2.2" fill="#1a8a1a" transform="rotate(45 484.9 605.4)"/>
<rect x="486.0" y="604.6" width="2.2" height="2.2" fill="#1a8a1a" transform="rotate(45 487.1 605.7)"/>
<rect x="488.2" y="607.4" width="2.2" height="2.2" fill="#1a8a1a" transform="rotate(45 489.3 608.3)"/>
<rect x="490.4" y="607.8" width="2.2" height="2.2" fill="#1a8a1a" transform="rotate(45 491.5 609.0)"/>
<rect x="492.6" y="608.6" width="2.2" height="2.2" fill="#1a8a1a" transform="rotate(45 493.7 610.0)"/>
<rect x="494.8" y="610.6" width="2.2" height="2.2" fill="#1a8a1a" transform="rotate(45 495.9 611.3)"/>
<rect x="497.0" y="611.8" width="2.2" height="2.2" fill="#1a8a1a" transform="rotate(45 498.1 612.7)"/>
<rect x="499.2" y="613.2" width="2.2" height="2.2" fill="#1a8a1a" transform="rotate(45 500.3 614.4)"/>
<rect x="501.4" y="613.8" width="2.2" height="2.2" fill="#1a8a1a" transform="rotate(45 502.5 615.0)"/>
<rect x="503.6" y="615.2" width="2.2" height="2.2" fill="#1a8a1a" transform="rotate(45 504.7 616.3)"/>
<rect x="505.8" y="616.6" width="2.2" height="2.2" fill="#1a8a1a" transform="rotate(45 506.9 617.6)"/>
<rect x="508.0" y="616.7" width="2.2" height="2.2" fill="#1a8a1a" transform="rotate(45 509.1 618.1)"/>
<rect x="510.2" y="617.8" width="2.2" height="2.2" fill="#1a8a1a" transform="rotate(45 511.3 619.4)"/>
<rect x="512.4" y="618.5" width="2.2" height="2.2" fill="#1a8a1a" transform="rotate(45 513.5 619.9)"/>
<rect x="514.6" y="620.1" width="2.2" height="2.2" fill="#1a8a1a" transform="rotate(45 515.7 620.9)"/>
<rect x="516.8" y="620.0" width="2.2" height="2.2" fill="#1a8a1a" transform="rotate(45 517.9 621.5)"/>
<rect x="519.0" y="621.5" width="2.2" height="2.2" fill="#1a8a1a" transform="rotate(45 520.1 622.6)"/>
<rect x="521.2" y="621.9" width="2.2" height="2.2" fill="#1a8a1a" transform="rotate(45 522.3 623.3)"/>
<rect x="523.4" y="623.0" width="2.2" height="2.2" fill="#1a8a1a" transform="rotate(45 524.5 624.4)"/>
<rect x="525.6" y="623.0" width="2.2" height="2.2" fill="#1a8a1a" transform="rotate(45 526.7 624.4)"/>
<rect x="527.8" y="624.2" width="2.2" height="2.2" fill="#1a8a1a" transform="rotate(45 528.9 625.4)"/>
<rect x="530.0" y="624.2" width="2.2" height="2.2" fill="#1a8a1a" transform="rotate(45 531.1 625.6)"/>
<rect x="532.2" y="624.0" width="2.2" height="2.2" fill="#1a8a1a" transform="rotate(45 533.3 625.5)"/>
<rect x="534.4" y="624.0" width="2.2" height="2.2" fill="#1a8a1a" transform="rotate(45 535.5 625.5)"/>
<rect x="536.6" y="624.8" width="2.2" height="2.2" fill="#1a8a1a" transform="rotate(45 537.7 626.2)"/>
<rect x="538.8" y="625.5" width="2.2" height="2.2" fill="#1a8a1a" transform="rotate(45 539.9 626.6)"/>
<polyline points="211.2,704.0 212.7,697.8 215.0,689.3 217.2,681.0 219.4,673.1 221.6,665.4 223.8,658.0 226.1,650.9 228.3,644.0 230.5,637.4 232.7,631.1 234.9,625.0 237.2,619.2 239.4,613.6 241.6,608.3 243.8,603.2 246.0,598.3 248.3,593.6 250.5,589.1 252.7,584.9 254.9,580.8 257.1,577.0 259.4,573.3 261.6,569.8 263.8,566.5 266.0,563.4 268.2,560.4 270.5,557.7 272.7,555.0 274.9,552.5 277.1,550.2 279.3,548.0 281.6,546.0 283.8,544.1 286.0,542.4 288.2,540.7 290.4,539.2 292.7,537.8 294.9,536.6 297.1,535.4 299.3,534.4 301.5,533.5 303.8,532.7 306.0,532.0 308.2,531.5 310.4,531.0 312.6,530.6 314.9,530.4 317.1,530.2 319.3,530.6 321.5,530.7 323.7,530.8 326.0,531.1 328.2,531.5 330.4,532.0 332.6,532.6 334.8,533.4 337.1,534.2 339.3,535.2 341.5,536.3 343.7,537.5 345.9,538.8 348.2,540.3 350.4,541.9 352.6,543.6 354.8,545.4 357.0,547.4 359.3,549.5 361.5,551.7 363.7,554.1 365.9,556.6 368.1,559.3 370.4,562.1 372.6,565.0 374.8,568.2 377.0,571.5 379.2,574.9 381.5,578.6 383.7,582.4 385.9,586.4 388.1,590.6 390.3,595.0 392.6,599.6 394.8,604.4 397.0,609.5 399.2,614.7 401.4,620.2 403.7,626.0 405.9,632.0 408.1,638.3 410.3,644.9 412.5,651.7 414.8,658.9 417.0,666.3 419.2,674.2 421.4,682.3 423.6,690.8 425.9,699.7 426.9,704.0" fill="none" stroke="#1414d2" stroke-width="1.6" />
<rect x="211.2" y="696.3" width="3.1" height="3.1" fill="#1414d2" transform="rotate(45 212.7 697.8)"/>
<rect x="213.4" y="687.7" width="3.1" height="3.1" fill="#1414d2" transform="rotate(45 215.0 689.3)"/>
<rect x="215.6" y="679.5" width="3.1" height="3.1" fill="#1414d2" transform="rotate(45 217.2 681.0)"/>
<rect x="217.8" y="671.5" width="3.1" height="3.1" fill="#1414d2" transform="rotate(45 219.4 673.1)"/>
<rect x="220.1" y="663.8" width="3.1" height="3.1" fill="#1414d2" transform="rotate(45 221.6 665.4)"/>
<rect x="222.3" y="656.4" width="3.1" height="3.1" fill="#1414d2" transform="rotate(45 223.8 658.0)"/>
<rect x="224.5" y="649.3" width="3.1" height="3.1" fill="#1414d2" transform="rotate(45 226.1 650.9)"/>
<rect x="226.7" y="642.5" width="3.1" height="3.1" fill="#1414d2" transform="rotate(45 228.3 644.0)"/>
<rect x="228.9" y="635.9" width="3.1" height="3.1" fill="#1414d2" transform="rotate(45 230.5 637.4)"/>
<rect x="231.2" y="629.6" width="3.1" height="3.1" fill="#1414d2" transform="rotate(45 232.7 631.1)"/>
<rect x="233.4" y="623.5" width="3.1" height="3.1" fill="#1414d2" transform="rotate(45 234.9 625.0)"/>
<rect x="235.6" y="617.7" width="3.1" height="3.1" fill="#1414d2" transform="rotate(45 237.2 619.2)"/>
<rect x="237.8" y="612.1" width="3.1" height="3.1" fill="#1414d2" transform="rotate(45 239.4 613.6)"/>
<rect x="240.1" y="606.7" width="3.1" height="3.1" fill="#1414d2" transform="rotate(45 241.6 608.3)"/>
<rect x="242.3" y="601.6" width="3.1" height="3.1" fill="#1414d2" transform="rotate(45 243.8 603.2)"/>
<rect x="244.5" y="596.7" width="3.1" height="3.1" fill="#1414d2" transform="rotate(45 246.0 598.3)"/>
<rect x="246.7" y="592.0" width="3.1" height="3.1" fill="#1414d2" transform="rotate(45 248.3 593.6)"/>
<rect x="248.9" y="587.6" width="3.1" height="3.1" fill="#1414d2" transform="rotate(45 250.5 589.1)"/>
<rect x="251.1" y="583.3" width="3.1" height="3.1" fill="#1414d2" transform="rotate(45 252.7 584.9)"/>
<rect x="253.4" y="579.3" width="3.1" height="3.1" fill="#1414d2" transform="rotate(45 254.9 580.8)"/>
<rect x="255.6" y="575.4" width="3.1" height="3.1" fill="#1414d2" transform="rotate(45 257.1 577.0)"/>
<rect x="257.8" y="571.8" width="3.1" height="3.1" fill="#1414d2" transform="rotate(45 259.4 573.3)"/>
<rect x="260.0" y="568.3" width="3.1" height="3.1" fill="#1414d2" transform="rotate(45 261.6 569.8)"/>
<rect x="262.2" y="565.0" width="3.1" height="3.1" fill="#1414d2" transform="rotate(45 263.8 566.5)"/>
<rect x="264.5" y="561.8" width="3.1" height="3.1" fill="#1414d2" transform="rotate(45 266.0 563.4)"/>
<rect x="266.7" y="558.9" width="3.1" height="3.1" fill="#1414d2" transform="rotate(45 268.2 560.4)"/>
<rect x="268.9" y="556.1" width="3.1" height="3.1" fill="#1414d2" transform="rotate(45 270.5 557.7)"/>
<rect x="271.1" y="553.5" width="3.1" height="3.1" fill="#1414d2" transform="rotate(45 272.7 555.0)"/>
<rect x="273.3" y="551.0" width="3.1" height="3.1" fill="#1414d2" transform="rotate(45 274.9 552.5)"/>
<rect x="275.6" y="548.7" width="3.1" height="3.1" fill="#1414d2" transform="rotate(45 277.1 550.2)"/>
<rect x="277.8" y="546.5" width="3.1" height="3.1" fill="#1414d2" transform="rotate(45 279.3 548.0)"/>
<rect x="280.0" y="544.5" width="3.1" height="3.1" fill="#1414d2" transform="rotate(45 281.6 546.0)"/>
<rect x="282.2" y="542.6" width="3.1" height="3.1" fill="#1414d2" transform="rotate(45 283.8 544.1)"/>
<rect x="284.4" y="540.8" width="3.1" height="3.1" fill="#1414d2" transform="rotate(45 286.0 542.4)"/>
<rect x="286.7" y="539.2" width="3.1" height="3.1" fill="#1414d2" transform="rotate(45 288.2 540.7)"/>
<rect x="288.9" y="537.7" width="3.1" height="3.1" fill="#1414d2" transform="rotate(45 290.4 539.2)"/>
<rect x="291.1" y="536.3" width="3.1" height="3.1" fill="#1414d2" transform="rotate(45 292.7 537.8)"/>
<rect x="293.3" y="535.0" width="3.1" height="3.1" fill="#1414d2" transform="rotate(45 294.9 536.6)"/>
<rect x="295.6" y="533.9" width="3.1" height="3.1" fill="#1414d2" transform="rotate(45 297.1 535.4)"/>
<rect x="297.8" y="532.9" width="3.1" height="3.1" fill="#1414d2" transform="rotate(45 299.3 534.4)"/>
<rect x="300.0" y="532.0" width="3.1" height="3.1" fill="#1414d2" transform="rotate(45 301.5 533.5)"/>
<rect x="302.2" y="531.2" width="3.1" height="3.1" fill="#1414d2" transform="rotate(45 303.8 532.7)"/>
<rect x="304.4" y="530.5" width="3.1" height="3.1" fill="#1414d2" transform="rotate(45 306.0 532.0)"/>
<rect x="306.6" y="529.9" width="3.1" height="3.1" fill="#1414d2" transform="rotate(45 308.2 531.5)"/>
<rect x="308.9" y="529.4" width="3.1" height="3.1" fill="#1414d2" transform="rotate(45 310.4 531.0)"/>
<rect x="311.1" y="529.1" width="3.1" height="3.1" fill="#1414d2" transform="rotate(45 312.6 530.6)"/>
<rect x="313.3" y="528.8" width="3.1" height="3.1" fill="#1414d2" transform="rotate(45 314.9 530.4)"/>
<rect x="315.5" y="528.7" width="3.1" height="3.1" fill="#1414d2" transform="rotate(45 317.1 530.2)"/>
<rect x="317.8" y="529.1" width="3.1" height="3.1" fill="#1414d2" transform="rotate(45 319.3 530.6)"/>
<rect x="320.0" y="529.1" width="3.1" height="3.1" fill="#1414d2" transform="rotate(45 321.5 530.7)"/>
<rect x="322.2" y="529.3" width="3.1" height="3.1" fill="#1414d2" transform="rotate(45 323.7 530.8)"/>
<rect x="324.4" y="529.6" width="3.1" height="3.1" fill="#1414d2" transform="rotate(45 326.0 531.1)"/>
<rect x="326.6" y="530.0" width="3.1" height="3.1" fill="#1414d2" transform="rotate(45 328.2 531.5)"/>
<rect x="328.9" y="530.5" width="3.1" height="3.1" fill="#1414d2" transform="rotate(45 330.4 532.0)"/>
<rect x="331.1" y="531.1" width="3.1" height="3.1" fill="#1414d2" transform="rotate(45 332.6 532.6)"/>
<rect x="333.3" y="531.8" width="3.1" height="3.1" fill="#1414d2" transform="rotate(45 334.8 533.4)"/>
<rect x="335.5" y="532.7" width="3.1" height="3.1" fill="#1414d2" transform="rotate(45 337.1 534.2)"/>
<rect x="337.7" y="533.6" width="3.1" height="3.1" fill="#1414d2" transform="rotate(45 339.3 535.2)"/>
<rect x="339.9" y="534.7" width="3.1" height="3.1" fill="#1414d2" transform="rotate(45 341.5 536.3)"/>
<rect x="342.2" y="535.9" width="3.1" height="3.1" fill="#1414d2" transform="rotate(45 343.7 537.5)"/>
<rect x="344.4" y="537.3" width="3.1" height="3.1" fill="#1414d2" transform="rotate(45 345.9 538.8)"/>
<rect x="346.6" y="538.7" width="3.1" height="3.1" fill="#1414d2" transform="rotate(45 348.2 540.3)"/>
<rect x="348.8" y="540.3" width="3.1" height="3.1" fill="#1414d2" transform="rotate(45 350.4 541.9)"/>
<rect x="351.1" y="542.0" width="3.1" height="3.1" fill="#1414d2" transform="rotate(45 352.6 543.6)"/>
<rect x="353.3" y="543.8" width="3.1" height="3.1" fill="#1414d2" transform="rotate(45 354.8 545.4)"/>
<rect x="355.5" y="545.8" width="3.1" height="3.1" fill="#1414d2" transform="rotate(45 357.0 547.4)"/>
<rect x="357.7" y="547.9" width="3.1" height="3.1" fill="#1414d2" transform="rotate(45 359.3 549.5)"/>
<rect x="359.9" y="550.1" width="3.1" height="3.1" fill="#1414d2" transform="rotate(45 361.5 551.7)"/>
<rect x="362.2" y="552.5" width="3.1" height="3.1" fill="#1414d2" transform="rotate(45 363.7 554.1)"/>
<rect x="364.4" y="555.0" width="3.1" height="3.1" fill="#1414d2" transform="rotate(45 365.9 556.6)"/>
<rect x="366.6" y="557.7" width="3.1" height="3.1" fill="#1414d2" transform="rotate(45 368.1 559.3)"/>
<rect x="368.8" y="560.5" width="3.1" height="3.1" fill="#1414d2" transform="rotate(45 370.4 562.1)"/>
<rect x="371.0" y="563.5" width="3.1" height="3.1" fill="#1414d2" transform="rotate(45 372.6 565.0)"/>
<rect x="373.2" y="566.6" width="3.1" height="3.1" fill="#1414d2" transform="rotate(45 374.8 568.2)"/>
<rect x="375.5" y="569.9" width="3.1" height="3.1" fill="#1414d2" transform="rotate(45 377.0 571.5)"/>
<rect x="377.7" y="573.4" width="3.1" height="3.1" fill="#1414d2" transform="rotate(45 379.2 574.9)"/>
<rect x="379.9" y="577.0" width="3.1" height="3.1" fill="#1414d2" transform="rotate(45 381.5 578.6)"/>
<rect x="382.1" y="580.9" width="3.1" height="3.1" fill="#1414d2" transform="rotate(45 383.7 582.4)"/>
<rect x="384.4" y="584.9" width="3.1" height="3.1" fill="#1414d2" transform="rotate(45 385.9 586.4)"/>
<rect x="386.6" y="589.1" width="3.1" height="3.1" fill="#1414d2" transform="rotate(45 388.1 590.6)"/>
<rect x="388.8" y="593.5" width="3.1" height="3.1" fill="#1414d2" transform="rotate(45 390.3 595.0)"/>
<rect x="391.0" y="598.1" width="3.1" height="3.1" fill="#1414d2" transform="rotate(45 392.6 599.6)"/>
<rect x="393.2" y="602.9" width="3.1" height="3.1" fill="#1414d2" transform="rotate(45 394.8 604.4)"/>
<rect x="395.4" y="607.9" width="3.1" height="3.1" fill="#1414d2" transform="rotate(45 397.0 609.5)"/>
<rect x="397.7" y="613.2" width="3.1" height="3.1" fill="#1414d2" transform="rotate(45 399.2 614.7)"/>
<rect x="399.9" y="618.7" width="3.1" height="3.1" fill="#1414d2" transform="rotate(45 401.4 620.2)"/>
<rect x="402.1" y="624.4" width="3.1" height="3.1" fill="#1414d2" transform="rotate(45 403.7 626.0)"/>
<rect x="404.3" y="630.5" width="3.1" height="3.1" fill="#1414d2" transform="rotate(45 405.9 632.0)"/>
<rect x="406.6" y="636.7" width="3.1" height="3.1" fill="#1414d2" transform="rotate(45 408.1 638.3)"/>
<rect x="408.8" y="643.3" width="3.1" height="3.1" fill="#1414d2" transform="rotate(45 410.3 644.9)"/>
<rect x="411.0" y="650.2" width="3.1" height="3.1" fill="#1414d2" transform="rotate(45 412.5 651.7)"/>
<rect x="413.2" y="657.3" width="3.1" height="3.1" fill="#1414d2" transform="rotate(45 414.8 658.9)"/>
<rect x="415.4" y="664.8" width="3.1" height="3.1" fill="#1414d2" transform="rotate(45 417.0 666.3)"/>
<rect x="417.7" y="672.6" width="3.1" height="3.1" fill="#1414d2" transform="rotate(45 419.2 674.2)"/>
<rect x="419.9" y="680.8" width="3.1" height="3.1" fill="#1414d2" transform="rotate(45 421.4 682.3)"/>
<rect x="422.1" y="689.3" width="3.1" height="3.1" fill="#1414d2" transform="rotate(45 423.6 690.8)"/>
<rect x="424.3" y="698.1" width="3.1" height="3.1" fill="#1414d2" transform="rotate(45 425.9 699.7)"/>
<line x1="85.7" y1="502.0" x2="553.6" y2="502.0" stroke="#111" stroke-width="1.4"/>
<line x1="85.7" y1="704.0" x2="541.6" y2="704.0" stroke="#111" stroke-width="1.4"/>
<line x1="97.7" y1="490.0" x2="97.7" y2="716.0" stroke="#111" stroke-width="1.4"/>
<line x1="541.6" y1="490.0" x2="541.6" y2="704.0" stroke="#111" stroke-width="1.4"/>
<line x1="97.7" y1="489.0" x2="97.7" y2="502.0" stroke="#111" stroke-width="1.4"/>
<line x1="97.7" y1="704.0" x2="97.7" y2="716.0" stroke="#111" stroke-width="1.4"/>
<line x1="208.7" y1="489.0" x2="208.7" y2="502.0" stroke="#111" stroke-width="1.4"/>
<line x1="208.7" y1="704.0" x2="208.7" y2="716.0" stroke="#111" stroke-width="1.4"/>
<line x1="319.7" y1="489.0" x2="319.7" y2="502.0" stroke="#111" stroke-width="1.4"/>
<line x1="319.7" y1="704.0" x2="319.7" y2="716.0" stroke="#111" stroke-width="1.4"/>
<line x1="430.6" y1="489.0" x2="430.6" y2="502.0" stroke="#111" stroke-width="1.4"/>
<line x1="430.6" y1="704.0" x2="430.6" y2="716.0" stroke="#111" stroke-width="1.4"/>
<line x1="541.6" y1="489.0" x2="541.6" y2="502.0" stroke="#111" stroke-width="1.4"/>
<line x1="541.6" y1="704.0" x2="541.6" y2="716.0" stroke="#111" stroke-width="1.4"/>
<line x1="91.2" y1="691.8" x2="97.7" y2="691.8" stroke="#111" stroke-width="1.1"/>
<line x1="541.6" y1="691.8" x2="548.1" y2="691.8" stroke="#111" stroke-width="1.1"/>
<line x1="91.2" y1="684.7" x2="97.7" y2="684.7" stroke="#111" stroke-width="1.1"/>
<line x1="541.6" y1="684.7" x2="548.1" y2="684.7" stroke="#111" stroke-width="1.1"/>
<line x1="91.2" y1="679.7" x2="97.7" y2="679.7" stroke="#111" stroke-width="1.1"/>
<line x1="541.6" y1="679.7" x2="548.1" y2="679.7" stroke="#111" stroke-width="1.1"/>
<line x1="91.2" y1="675.8" x2="97.7" y2="675.8" stroke="#111" stroke-width="1.1"/>
<line x1="541.6" y1="675.8" x2="548.1" y2="675.8" stroke="#111" stroke-width="1.1"/>
<line x1="91.2" y1="672.6" x2="97.7" y2="672.6" stroke="#111" stroke-width="1.1"/>
<line x1="541.6" y1="672.6" x2="548.1" y2="672.6" stroke="#111" stroke-width="1.1"/>
<line x1="91.2" y1="669.9" x2="97.7" y2="669.9" stroke="#111" stroke-width="1.1"/>
<line x1="541.6" y1="669.9" x2="548.1" y2="669.9" stroke="#111" stroke-width="1.1"/>
<line x1="91.2" y1="667.5" x2="97.7" y2="667.5" stroke="#111" stroke-width="1.1"/>
<line x1="541.6" y1="667.5" x2="548.1" y2="667.5" stroke="#111" stroke-width="1.1"/>
<line x1="91.2" y1="665.4" x2="97.7" y2="665.4" stroke="#111" stroke-width="1.1"/>
<line x1="541.6" y1="665.4" x2="548.1" y2="665.4" stroke="#111" stroke-width="1.1"/>
<line x1="91.2" y1="651.4" x2="97.7" y2="651.4" stroke="#111" stroke-width="1.1"/>
<line x1="541.6" y1="651.4" x2="548.1" y2="651.4" stroke="#111" stroke-width="1.1"/>
<line x1="91.2" y1="644.3" x2="97.7" y2="644.3" stroke="#111" stroke-width="1.1"/>
<line x1="541.6" y1="644.3" x2="548.1" y2="644.3" stroke="#111" stroke-width="1.1"/>
<line x1="91.2" y1="639.3" x2="97.7" y2="639.3" stroke="#111" stroke-width="1.1"/>
<line x1="541.6" y1="639.3" x2="548.1" y2="639.3" stroke="#111" stroke-width="1.1"/>
<line x1="91.2" y1="635.4" x2="97.7" y2="635.4" stroke="#111" stroke-width="1.1"/>
<line x1="541.6" y1="635.4" x2="548.1" y2="635.4" stroke="#111" stroke-width="1.1"/>
<line x1="91.2" y1="632.2" x2="97.7" y2="632.2" stroke="#111" stroke-width="1.1"/>
<line x1="541.6" y1="632.2" x2="548.1" y2="632.2" stroke="#111" stroke-width="1.1"/>
<line x1="91.2" y1="629.5" x2="97.7" y2="629.5" stroke="#111" stroke-width="1.1"/>
<line x1="541.6" y1="629.5" x2="548.1" y2="629.5" stroke="#111" stroke-width="1.1"/>
<line x1="91.2" y1="627.1" x2="97.7" y2="627.1" stroke="#111" stroke-width="1.1"/>
<line x1="541.6" y1="627.1" x2="548.1" y2="627.1" stroke="#111" stroke-width="1.1"/>
<line x1="91.2" y1="625.0" x2="97.7" y2="625.0" stroke="#111" stroke-width="1.1"/>
<line x1="541.6" y1="625.0" x2="548.1" y2="625.0" stroke="#111" stroke-width="1.1"/>
<line x1="91.2" y1="611.0" x2="97.7" y2="611.0" stroke="#111" stroke-width="1.1"/>
<line x1="541.6" y1="611.0" x2="548.1" y2="611.0" stroke="#111" stroke-width="1.1"/>
<line x1="91.2" y1="603.9" x2="97.7" y2="603.9" stroke="#111" stroke-width="1.1"/>
<line x1="541.6" y1="603.9" x2="548.1" y2="603.9" stroke="#111" stroke-width="1.1"/>
<line x1="91.2" y1="598.9" x2="97.7" y2="598.9" stroke="#111" stroke-width="1.1"/>
<line x1="541.6" y1="598.9" x2="548.1" y2="598.9" stroke="#111" stroke-width="1.1"/>
<line x1="91.2" y1="595.0" x2="97.7" y2="595.0" stroke="#111" stroke-width="1.1"/>
<line x1="541.6" y1="595.0" x2="548.1" y2="595.0" stroke="#111" stroke-width="1.1"/>
<line x1="91.2" y1="591.8" x2="97.7" y2="591.8" stroke="#111" stroke-width="1.1"/>
<line x1="541.6" y1="591.8" x2="548.1" y2="591.8" stroke="#111" stroke-width="1.1"/>
<line x1="91.2" y1="589.1" x2="97.7" y2="589.1" stroke="#111" stroke-width="1.1"/>
<line x1="541.6" y1="589.1" x2="548.1" y2="589.1" stroke="#111" stroke-width="1.1"/>
<line x1="91.2" y1="586.7" x2="97.7" y2="586.7" stroke="#111" stroke-width="1.1"/>
<line x1="541.6" y1="586.7" x2="548.1" y2="586.7" stroke="#111" stroke-width="1.1"/>
<line x1="91.2" y1="584.6" x2="97.7" y2="584.6" stroke="#111" stroke-width="1.1"/>
<line x1="541.6" y1="584.6" x2="548.1" y2="584.6" stroke="#111" stroke-width="1.1"/>
<line x1="91.2" y1="570.6" x2="97.7" y2="570.6" stroke="#111" stroke-width="1.1"/>
<line x1="541.6" y1="570.6" x2="548.1" y2="570.6" stroke="#111" stroke-width="1.1"/>
<line x1="91.2" y1="563.5" x2="97.7" y2="563.5" stroke="#111" stroke-width="1.1"/>
<line x1="541.6" y1="563.5" x2="548.1" y2="563.5" stroke="#111" stroke-width="1.1"/>
<line x1="91.2" y1="558.5" x2="97.7" y2="558.5" stroke="#111" stroke-width="1.1"/>
<line x1="541.6" y1="558.5" x2="548.1" y2="558.5" stroke="#111" stroke-width="1.1"/>
<line x1="91.2" y1="554.6" x2="97.7" y2="554.6" stroke="#111" stroke-width="1.1"/>
<line x1="541.6" y1="554.6" x2="548.1" y2="554.6" stroke="#111" stroke-width="1.1"/>
<line x1="91.2" y1="551.4" x2="97.7" y2="551.4" stroke="#111" stroke-width="1.1"/>
<line x1="541.6" y1="551.4" x2="548.1" y2="551.4" stroke="#111" stroke-width="1.1"/>
<line x1="91.2" y1="548.7" x2="97.7" y2="548.7" stroke="#111" stroke-width="1.1"/>
<line x1="541.6" y1="548.7" x2="548.1" y2="548.7" stroke="#111" stroke-width="1.1"/>
<line x1="91.2" y1="546.3" x2="97.7" y2="546.3" stroke="#111" stroke-width="1.1"/>
<line x1="541.6" y1="546.3" x2="548.1" y2="546.3" stroke="#111" stroke-width="1.1"/>
<line x1="91.2" y1="544.2" x2="97.7" y2="544.2" stroke="#111" stroke-width="1.1"/>
<line x1="541.6" y1="544.2" x2="548.1" y2="544.2" stroke="#111" stroke-width="1.1"/>
<line x1="91.2" y1="530.2" x2="97.7" y2="530.2" stroke="#111" stroke-width="1.1"/>
<line x1="541.6" y1="530.2" x2="548.1" y2="530.2" stroke="#111" stroke-width="1.1"/>
<line x1="91.2" y1="523.1" x2="97.7" y2="523.1" stroke="#111" stroke-width="1.1"/>
<line x1="541.6" y1="523.1" x2="548.1" y2="523.1" stroke="#111" stroke-width="1.1"/>
<line x1="91.2" y1="518.1" x2="97.7" y2="518.1" stroke="#111" stroke-width="1.1"/>
<line x1="541.6" y1="518.1" x2="548.1" y2="518.1" stroke="#111" stroke-width="1.1"/>
<line x1="91.2" y1="514.2" x2="97.7" y2="514.2" stroke="#111" stroke-width="1.1"/>
<line x1="541.6" y1="514.2" x2="548.1" y2="514.2" stroke="#111" stroke-width="1.1"/>
<line x1="91.2" y1="511.0" x2="97.7" y2="511.0" stroke="#111" stroke-width="1.1"/>
<line x1="541.6" y1="511.0" x2="548.1" y2="511.0" stroke="#111" stroke-width="1.1"/>
<line x1="91.2" y1="508.3" x2="97.7" y2="508.3" stroke="#111" stroke-width="1.1"/>
<line x1="541.6" y1="508.3" x2="548.1" y2="508.3" stroke="#111" stroke-width="1.1"/>
<line x1="91.2" y1="505.9" x2="97.7" y2="505.9" stroke="#111" stroke-width="1.1"/>
<line x1="541.6" y1="505.9" x2="548.1" y2="505.9" stroke="#111" stroke-width="1.1"/>
<line x1="91.2" y1="503.8" x2="97.7" y2="503.8" stroke="#111" stroke-width="1.1"/>
<line x1="541.6" y1="503.8" x2="548.1" y2="503.8" stroke="#111" stroke-width="1.1"/>
<line x1="84.7" y1="704.0" x2="97.7" y2="704.0" stroke="#111" stroke-width="1.4"/>
<line x1="541.6" y1="704.0" x2="554.6" y2="704.0" stroke="#111" stroke-width="1.4"/>
<text x="62.9" y="713.0" class="tk" text-anchor="end" transform="translate(62.9 0) scale(1.09 1) translate(-62.9 0)">10</text>
<text x="64.3" y="696.0" style="font-size:17px;fill:#111">-4</text>
<line x1="84.7" y1="663.6" x2="97.7" y2="663.6" stroke="#111" stroke-width="1.4"/>
<line x1="541.6" y1="663.6" x2="554.6" y2="663.6" stroke="#111" stroke-width="1.4"/>
<text x="62.9" y="672.6" class="tk" text-anchor="end" transform="translate(62.9 0) scale(1.09 1) translate(-62.9 0)">10</text>
<text x="64.3" y="655.6" style="font-size:17px;fill:#111">-3</text>
<line x1="84.7" y1="623.2" x2="97.7" y2="623.2" stroke="#111" stroke-width="1.4"/>
<line x1="541.6" y1="623.2" x2="554.6" y2="623.2" stroke="#111" stroke-width="1.4"/>
<text x="62.9" y="632.2" class="tk" text-anchor="end" transform="translate(62.9 0) scale(1.09 1) translate(-62.9 0)">10</text>
<text x="64.3" y="615.2" style="font-size:17px;fill:#111">-2</text>
<line x1="84.7" y1="582.8" x2="97.7" y2="582.8" stroke="#111" stroke-width="1.4"/>
<line x1="541.6" y1="582.8" x2="554.6" y2="582.8" stroke="#111" stroke-width="1.4"/>
<text x="62.9" y="591.8" class="tk" text-anchor="end" transform="translate(62.9 0) scale(1.09 1) translate(-62.9 0)">10</text>
<text x="64.3" y="574.8" style="font-size:17px;fill:#111">-1</text>
<line x1="84.7" y1="542.4" x2="97.7" y2="542.4" stroke="#111" stroke-width="1.4"/>
<line x1="541.6" y1="542.4" x2="554.6" y2="542.4" stroke="#111" stroke-width="1.4"/>
<text x="62.9" y="551.4" class="tk" text-anchor="end" transform="translate(62.9 0) scale(1.09 1) translate(-62.9 0)">10</text>
<text x="64.3" y="534.4" style="font-size:17px;fill:#111">0</text>
<line x1="84.7" y1="502.0" x2="97.7" y2="502.0" stroke="#111" stroke-width="1.4"/>
<line x1="541.6" y1="502.0" x2="554.6" y2="502.0" stroke="#111" stroke-width="1.4"/>
<text x="62.9" y="511.0" class="tk" text-anchor="end" transform="translate(62.9 0) scale(1.09 1) translate(-62.9 0)">10</text>
<text x="64.3" y="494.0" style="font-size:17px;fill:#111">1</text>
<text x="97.7" y="743.5" class="tk" text-anchor="middle" transform="translate(97.7 0) scale(1.09 1) translate(-97.7 0)">1.5</text>
<text x="208.7" y="743.5" class="tk" text-anchor="middle" transform="translate(208.7 0) scale(1.09 1) translate(-208.7 0)">1.75</text>
<text x="319.7" y="743.5" class="tk" text-anchor="middle" transform="translate(319.7 0) scale(1.09 1) translate(-319.7 0)">2</text>
<text x="430.6" y="743.5" class="tk" text-anchor="middle" transform="translate(430.6 0) scale(1.09 1) translate(-430.6 0)">2.25</text>
<text x="541.6" y="743.5" class="tk" text-anchor="middle" transform="translate(541.6 0) scale(1.09 1) translate(-541.6 0)">2.5</text>
<text x="258.5" y="769.3" class="lab" textLength="137.5" lengthAdjust="spacingAndGlyphs">Initial&#160;&#160;phase(π)</text>
<text transform="translate(15.6 645.5) rotate(-90)" class="lab" textLength="87.5" lengthAdjust="spacingAndGlyphs">Rate(a.u.)</text>
<text x="102.6" y="534.3" class="bl">(e)</text>
<rect x="451.5" y="507" width="84.3" height="45" fill="#fff" stroke="#222" stroke-width="1.3"/>
<line x1="458.4" y1="518.8" x2="492" y2="518.8" stroke="#2020d0" stroke-width="1"/><circle cx="476.3" cy="518.8" r="1.5" fill="#2020d0"/>
<line x1="458.4" y1="539.9" x2="492" y2="539.9" stroke="#1e8a1e" stroke-width="1"/><circle cx="476.3" cy="539.9" r="1.5" fill="#1e8a1e"/>
<text x="497.5" y="525" style="font-size:16.2px;fill:#222">ADK</text>
<text x="497.5" y="546" style="font-size:16.2px;fill:#222">PPT</text>
</svg></body></html>
